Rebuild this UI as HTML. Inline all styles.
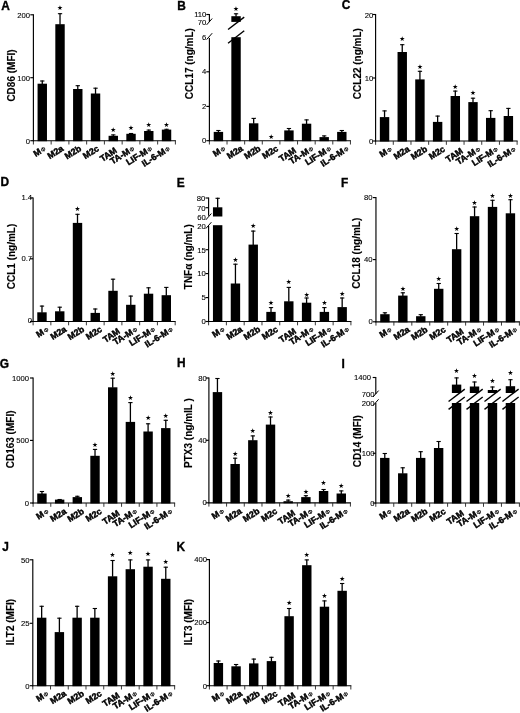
<!DOCTYPE html>
<html><head><meta charset="utf-8"><title>Figure</title>
<style>
html,body{margin:0;padding:0;background:#fff;}
svg{display:block;font-family:"Liberation Sans",sans-serif;fill:#000;}
</style></head><body>
<svg width="520" height="713" viewBox="0 0 520 713">
<rect x="0" y="0" width="520" height="713" fill="#fff"/>
<text x="1.35" y="9.55" font-size="11.9" font-weight="bold" text-anchor="start" stroke="#000" stroke-width="0.35">A</text>
<text x="15.40" y="75.50" font-size="10" font-weight="bold" text-anchor="middle" transform="rotate(-90 15.40 75.50)" stroke="#000" stroke-width="0.12">CD86 (MFI)</text>
<rect x="37.57" y="83.70" width="9.40" height="57.50" fill="#000"/>
<line x1="42.27" y1="80.50" x2="42.27" y2="84.20" stroke="#000" stroke-width="1.3" stroke-linecap="butt"/>
<line x1="40.12" y1="81.00" x2="44.42" y2="81.00" stroke="#000" stroke-width="1.1" stroke-linecap="butt"/>
<rect x="55.32" y="24.20" width="9.40" height="117.00" fill="#000"/>
<line x1="60.02" y1="13.20" x2="60.02" y2="24.70" stroke="#000" stroke-width="1.3" stroke-linecap="butt"/>
<line x1="57.88" y1="13.70" x2="62.17" y2="13.70" stroke="#000" stroke-width="1.1" stroke-linecap="butt"/>
<text x="60.02" y="10.20" font-size="6.6" font-weight="normal" text-anchor="middle" font-family="DejaVu Sans, sans-serif">★</text>
<rect x="73.08" y="89.00" width="9.40" height="52.20" fill="#000"/>
<line x1="77.78" y1="85.20" x2="77.78" y2="89.50" stroke="#000" stroke-width="1.3" stroke-linecap="butt"/>
<line x1="75.62" y1="85.70" x2="79.93" y2="85.70" stroke="#000" stroke-width="1.1" stroke-linecap="butt"/>
<rect x="90.83" y="93.50" width="9.40" height="47.70" fill="#000"/>
<line x1="95.53" y1="87.70" x2="95.53" y2="94.00" stroke="#000" stroke-width="1.3" stroke-linecap="butt"/>
<line x1="93.38" y1="88.20" x2="97.68" y2="88.20" stroke="#000" stroke-width="1.1" stroke-linecap="butt"/>
<rect x="108.58" y="135.80" width="9.40" height="5.40" fill="#000"/>
<line x1="113.28" y1="134.40" x2="113.28" y2="136.30" stroke="#000" stroke-width="1.3" stroke-linecap="butt"/>
<line x1="111.12" y1="134.90" x2="115.43" y2="134.90" stroke="#000" stroke-width="1.1" stroke-linecap="butt"/>
<text x="113.28" y="131.50" font-size="6.6" font-weight="normal" text-anchor="middle" font-family="DejaVu Sans, sans-serif">★</text>
<rect x="126.33" y="133.80" width="9.40" height="7.40" fill="#000"/>
<line x1="131.03" y1="133.00" x2="131.03" y2="134.30" stroke="#000" stroke-width="1.3" stroke-linecap="butt"/>
<line x1="128.88" y1="133.50" x2="133.18" y2="133.50" stroke="#000" stroke-width="1.1" stroke-linecap="butt"/>
<text x="131.03" y="129.90" font-size="6.6" font-weight="normal" text-anchor="middle" font-family="DejaVu Sans, sans-serif">★</text>
<rect x="144.08" y="131.00" width="9.40" height="10.20" fill="#000"/>
<line x1="148.78" y1="129.60" x2="148.78" y2="131.50" stroke="#000" stroke-width="1.3" stroke-linecap="butt"/>
<line x1="146.62" y1="130.10" x2="150.93" y2="130.10" stroke="#000" stroke-width="1.1" stroke-linecap="butt"/>
<text x="148.78" y="126.70" font-size="6.6" font-weight="normal" text-anchor="middle" font-family="DejaVu Sans, sans-serif">★</text>
<rect x="161.83" y="129.60" width="9.40" height="11.60" fill="#000"/>
<line x1="166.53" y1="128.80" x2="166.53" y2="130.10" stroke="#000" stroke-width="1.3" stroke-linecap="butt"/>
<line x1="164.38" y1="129.30" x2="168.68" y2="129.30" stroke="#000" stroke-width="1.1" stroke-linecap="butt"/>
<text x="166.53" y="126.70" font-size="6.6" font-weight="normal" text-anchor="middle" font-family="DejaVu Sans, sans-serif">★</text>
<line x1="32.90" y1="140.70" x2="175.90" y2="140.70" stroke="#000" stroke-width="1.15" stroke-linecap="butt"/>
<line x1="33.40" y1="140.70" x2="33.40" y2="144.50" stroke="#222" stroke-width="0.9" stroke-linecap="butt"/>
<line x1="51.15" y1="140.70" x2="51.15" y2="144.50" stroke="#222" stroke-width="0.9" stroke-linecap="butt"/>
<line x1="68.90" y1="140.70" x2="68.90" y2="144.50" stroke="#222" stroke-width="0.9" stroke-linecap="butt"/>
<line x1="86.65" y1="140.70" x2="86.65" y2="144.50" stroke="#222" stroke-width="0.9" stroke-linecap="butt"/>
<line x1="104.40" y1="140.70" x2="104.40" y2="144.50" stroke="#222" stroke-width="0.9" stroke-linecap="butt"/>
<line x1="122.15" y1="140.70" x2="122.15" y2="144.50" stroke="#222" stroke-width="0.9" stroke-linecap="butt"/>
<line x1="139.90" y1="140.70" x2="139.90" y2="144.50" stroke="#222" stroke-width="0.9" stroke-linecap="butt"/>
<line x1="157.65" y1="140.70" x2="157.65" y2="144.50" stroke="#222" stroke-width="0.9" stroke-linecap="butt"/>
<line x1="175.40" y1="140.70" x2="175.40" y2="144.50" stroke="#222" stroke-width="0.9" stroke-linecap="butt"/>
<line x1="33.40" y1="14.30" x2="33.40" y2="141.20" stroke="#000" stroke-width="1.15" stroke-linecap="butt"/>
<line x1="30.30" y1="14.80" x2="33.40" y2="14.80" stroke="#000" stroke-width="1.15" stroke-linecap="butt"/>
<text x="30.10" y="17.60" font-size="7.7" font-weight="normal" text-anchor="end" stroke="#000" stroke-width="0.1">200</text>
<line x1="30.30" y1="77.70" x2="33.40" y2="77.70" stroke="#000" stroke-width="1.15" stroke-linecap="butt"/>
<text x="30.10" y="80.50" font-size="7.7" font-weight="normal" text-anchor="end" stroke="#000" stroke-width="0.1">100</text>
<line x1="30.30" y1="140.70" x2="33.40" y2="140.70" stroke="#000" stroke-width="1.15" stroke-linecap="butt"/>
<text x="30.10" y="143.50" font-size="7.7" font-weight="normal" text-anchor="end" stroke="#000" stroke-width="0.1">0</text>
<text x="46.48" y="150.00" font-size="8.8" font-weight="bold" text-anchor="end" transform="rotate(-32.5 46.48 150.00)" stroke="#000" stroke-width="0.45">M<tspan font-size="6.0" dx="0.7" dy="-0.2" font-weight="normal" stroke-width="0.2">Φ</tspan></text>
<text x="64.23" y="150.00" font-size="8.8" font-weight="bold" text-anchor="end" transform="rotate(-32.5 64.23 150.00)" stroke="#000" stroke-width="0.45">M2a</text>
<text x="81.98" y="150.00" font-size="8.8" font-weight="bold" text-anchor="end" transform="rotate(-32.5 81.98 150.00)" stroke="#000" stroke-width="0.45">M2b</text>
<text x="99.73" y="150.00" font-size="8.8" font-weight="bold" text-anchor="end" transform="rotate(-32.5 99.73 150.00)" stroke="#000" stroke-width="0.45">M2c</text>
<text x="117.68" y="151.80" font-size="8.8" font-weight="bold" text-anchor="end" transform="rotate(-34 117.68 151.80)" stroke="#000" stroke-width="0.45">TAM</text>
<text x="135.22" y="150.00" font-size="8.8" font-weight="bold" text-anchor="end" transform="rotate(-32.5 135.22 150.00)" stroke="#000" stroke-width="0.45">TA-M<tspan font-size="6.0" dx="0.7" dy="-0.2" font-weight="normal" stroke-width="0.2">Φ</tspan></text>
<text x="152.97" y="150.00" font-size="8.8" font-weight="bold" text-anchor="end" transform="rotate(-32.5 152.97 150.00)" stroke="#000" stroke-width="0.45">LIF-M<tspan font-size="6.0" dx="0.7" dy="-0.2" font-weight="normal" stroke-width="0.2">Φ</tspan></text>
<text x="170.72" y="150.00" font-size="8.8" font-weight="bold" text-anchor="end" transform="rotate(-32.5 170.72 150.00)" stroke="#000" stroke-width="0.45">IL-6-M<tspan font-size="6.0" dx="0.7" dy="-0.2" font-weight="normal" stroke-width="0.2">Φ</tspan></text>
<text x="177.30" y="9.70" font-size="11.9" font-weight="bold" text-anchor="start" stroke="#000" stroke-width="0.35">B</text>
<text x="192.60" y="63.60" font-size="10" font-weight="bold" text-anchor="middle" transform="rotate(-90 192.60 63.60)" stroke="#000" stroke-width="0.12">CCL17 (ng/mL)</text>
<rect x="213.72" y="131.90" width="9.40" height="9.30" fill="#000"/>
<line x1="218.41" y1="130.00" x2="218.41" y2="132.40" stroke="#000" stroke-width="1.3" stroke-linecap="butt"/>
<line x1="216.26" y1="130.50" x2="220.56" y2="130.50" stroke="#000" stroke-width="1.1" stroke-linecap="butt"/>
<rect x="231.34" y="16.20" width="9.40" height="5.70" fill="#000"/>
<rect x="231.34" y="37.20" width="9.40" height="104.00" fill="#000"/>
<line x1="236.04" y1="13.30" x2="236.04" y2="16.70" stroke="#000" stroke-width="1.3" stroke-linecap="butt"/>
<line x1="233.89" y1="13.80" x2="238.19" y2="13.80" stroke="#000" stroke-width="1.1" stroke-linecap="butt"/>
<line x1="228.04" y1="29.50" x2="244.24" y2="17.10" stroke="#000" stroke-width="1.4" stroke-linecap="butt"/>
<line x1="228.04" y1="43.20" x2="244.24" y2="30.80" stroke="#000" stroke-width="1.4" stroke-linecap="butt"/>
<text x="236.04" y="10.60" font-size="6.6" font-weight="normal" text-anchor="middle" font-family="DejaVu Sans, sans-serif">★</text>
<rect x="248.97" y="123.30" width="9.40" height="17.90" fill="#000"/>
<line x1="253.67" y1="117.90" x2="253.67" y2="123.80" stroke="#000" stroke-width="1.3" stroke-linecap="butt"/>
<line x1="251.52" y1="118.40" x2="255.82" y2="118.40" stroke="#000" stroke-width="1.1" stroke-linecap="butt"/>
<text x="271.31" y="138.60" font-size="6.6" font-weight="normal" text-anchor="middle" font-family="DejaVu Sans, sans-serif">★</text>
<rect x="284.24" y="130.40" width="9.40" height="10.80" fill="#000"/>
<line x1="288.94" y1="128.00" x2="288.94" y2="130.90" stroke="#000" stroke-width="1.3" stroke-linecap="butt"/>
<line x1="286.79" y1="128.50" x2="291.08" y2="128.50" stroke="#000" stroke-width="1.1" stroke-linecap="butt"/>
<rect x="301.87" y="123.70" width="9.40" height="17.50" fill="#000"/>
<line x1="306.56" y1="119.40" x2="306.56" y2="124.20" stroke="#000" stroke-width="1.3" stroke-linecap="butt"/>
<line x1="304.42" y1="119.90" x2="308.71" y2="119.90" stroke="#000" stroke-width="1.1" stroke-linecap="butt"/>
<rect x="319.50" y="137.10" width="9.40" height="4.10" fill="#000"/>
<line x1="324.19" y1="135.40" x2="324.19" y2="137.60" stroke="#000" stroke-width="1.3" stroke-linecap="butt"/>
<line x1="322.05" y1="135.90" x2="326.34" y2="135.90" stroke="#000" stroke-width="1.1" stroke-linecap="butt"/>
<rect x="337.12" y="131.90" width="9.40" height="9.30" fill="#000"/>
<line x1="341.82" y1="130.00" x2="341.82" y2="132.40" stroke="#000" stroke-width="1.3" stroke-linecap="butt"/>
<line x1="339.68" y1="130.50" x2="343.97" y2="130.50" stroke="#000" stroke-width="1.1" stroke-linecap="butt"/>
<line x1="208.90" y1="140.70" x2="350.94" y2="140.70" stroke="#000" stroke-width="1.15" stroke-linecap="butt"/>
<line x1="209.40" y1="140.70" x2="209.40" y2="144.50" stroke="#222" stroke-width="0.9" stroke-linecap="butt"/>
<line x1="227.03" y1="140.70" x2="227.03" y2="144.50" stroke="#222" stroke-width="0.9" stroke-linecap="butt"/>
<line x1="244.66" y1="140.70" x2="244.66" y2="144.50" stroke="#222" stroke-width="0.9" stroke-linecap="butt"/>
<line x1="262.29" y1="140.70" x2="262.29" y2="144.50" stroke="#222" stroke-width="0.9" stroke-linecap="butt"/>
<line x1="279.92" y1="140.70" x2="279.92" y2="144.50" stroke="#222" stroke-width="0.9" stroke-linecap="butt"/>
<line x1="297.55" y1="140.70" x2="297.55" y2="144.50" stroke="#222" stroke-width="0.9" stroke-linecap="butt"/>
<line x1="315.18" y1="140.70" x2="315.18" y2="144.50" stroke="#222" stroke-width="0.9" stroke-linecap="butt"/>
<line x1="332.81" y1="140.70" x2="332.81" y2="144.50" stroke="#222" stroke-width="0.9" stroke-linecap="butt"/>
<line x1="350.44" y1="140.70" x2="350.44" y2="144.50" stroke="#222" stroke-width="0.9" stroke-linecap="butt"/>
<line x1="209.40" y1="14.00" x2="209.40" y2="22.00" stroke="#000" stroke-width="1.15" stroke-linecap="butt"/>
<line x1="209.40" y1="38.00" x2="209.40" y2="141.20" stroke="#000" stroke-width="1.15" stroke-linecap="butt"/>
<line x1="206.60" y1="24.90" x2="212.20" y2="18.50" stroke="#000" stroke-width="1.0" stroke-linecap="butt"/>
<line x1="206.60" y1="39.60" x2="212.20" y2="33.20" stroke="#000" stroke-width="1.0" stroke-linecap="butt"/>
<line x1="206.30" y1="14.50" x2="209.40" y2="14.50" stroke="#000" stroke-width="1.15" stroke-linecap="butt"/>
<text x="206.40" y="16.90" font-size="7.7" font-weight="normal" text-anchor="end" stroke="#000" stroke-width="0.1">110</text>
<text x="206.40" y="25.40" font-size="7.7" font-weight="normal" text-anchor="end" stroke="#000" stroke-width="0.1">70</text>
<text x="206.40" y="40.40" font-size="7.7" font-weight="normal" text-anchor="end" stroke="#000" stroke-width="0.1">6</text>
<line x1="206.30" y1="71.80" x2="209.40" y2="71.80" stroke="#000" stroke-width="1.15" stroke-linecap="butt"/>
<text x="206.40" y="74.20" font-size="7.7" font-weight="normal" text-anchor="end" stroke="#000" stroke-width="0.1">4</text>
<line x1="206.30" y1="106.40" x2="209.40" y2="106.40" stroke="#000" stroke-width="1.15" stroke-linecap="butt"/>
<text x="206.40" y="108.80" font-size="7.7" font-weight="normal" text-anchor="end" stroke="#000" stroke-width="0.1">2</text>
<line x1="206.30" y1="140.70" x2="209.40" y2="140.70" stroke="#000" stroke-width="1.15" stroke-linecap="butt"/>
<text x="206.40" y="143.10" font-size="7.7" font-weight="normal" text-anchor="end" stroke="#000" stroke-width="0.1">0</text>
<text x="226.12" y="150.00" font-size="8.8" font-weight="bold" text-anchor="end" transform="rotate(-32.5 226.12 150.00)" stroke="#000" stroke-width="0.45">M<tspan font-size="6.0" dx="0.7" dy="-0.2" font-weight="normal" stroke-width="0.2">Φ</tspan></text>
<text x="243.75" y="150.00" font-size="8.8" font-weight="bold" text-anchor="end" transform="rotate(-32.5 243.75 150.00)" stroke="#000" stroke-width="0.45">M2a</text>
<text x="261.38" y="150.00" font-size="8.8" font-weight="bold" text-anchor="end" transform="rotate(-32.5 261.38 150.00)" stroke="#000" stroke-width="0.45">M2b</text>
<text x="279.00" y="150.00" font-size="8.8" font-weight="bold" text-anchor="end" transform="rotate(-32.5 279.00 150.00)" stroke="#000" stroke-width="0.45">M2c</text>
<text x="296.83" y="151.80" font-size="8.8" font-weight="bold" text-anchor="end" transform="rotate(-34 296.83 151.80)" stroke="#000" stroke-width="0.45">TAM</text>
<text x="314.26" y="150.00" font-size="8.8" font-weight="bold" text-anchor="end" transform="rotate(-32.5 314.26 150.00)" stroke="#000" stroke-width="0.45">TA-M<tspan font-size="6.0" dx="0.7" dy="-0.2" font-weight="normal" stroke-width="0.2">Φ</tspan></text>
<text x="331.89" y="150.00" font-size="8.8" font-weight="bold" text-anchor="end" transform="rotate(-32.5 331.89 150.00)" stroke="#000" stroke-width="0.45">LIF-M<tspan font-size="6.0" dx="0.7" dy="-0.2" font-weight="normal" stroke-width="0.2">Φ</tspan></text>
<text x="349.52" y="150.00" font-size="8.8" font-weight="bold" text-anchor="end" transform="rotate(-32.5 349.52 150.00)" stroke="#000" stroke-width="0.45">IL-6-M<tspan font-size="6.0" dx="0.7" dy="-0.2" font-weight="normal" stroke-width="0.2">Φ</tspan></text>
<text x="341.80" y="9.20" font-size="11.9" font-weight="bold" text-anchor="start" stroke="#000" stroke-width="0.35">C</text>
<text x="360.70" y="63.60" font-size="10" font-weight="bold" text-anchor="middle" transform="rotate(-90 360.70 63.60)" stroke="#000" stroke-width="0.12">CCL22 (ng/mL)</text>
<rect x="379.85" y="117.10" width="9.40" height="24.40" fill="#000"/>
<line x1="384.55" y1="110.40" x2="384.55" y2="117.60" stroke="#000" stroke-width="1.3" stroke-linecap="butt"/>
<line x1="382.40" y1="110.90" x2="386.70" y2="110.90" stroke="#000" stroke-width="1.1" stroke-linecap="butt"/>
<rect x="397.54" y="52.00" width="9.40" height="89.50" fill="#000"/>
<line x1="402.24" y1="44.20" x2="402.24" y2="52.50" stroke="#000" stroke-width="1.3" stroke-linecap="butt"/>
<line x1="400.09" y1="44.70" x2="404.39" y2="44.70" stroke="#000" stroke-width="1.1" stroke-linecap="butt"/>
<text x="402.24" y="41.30" font-size="6.6" font-weight="normal" text-anchor="middle" font-family="DejaVu Sans, sans-serif">★</text>
<rect x="415.23" y="79.40" width="9.40" height="62.10" fill="#000"/>
<line x1="419.93" y1="70.80" x2="419.93" y2="79.90" stroke="#000" stroke-width="1.3" stroke-linecap="butt"/>
<line x1="417.78" y1="71.30" x2="422.08" y2="71.30" stroke="#000" stroke-width="1.1" stroke-linecap="butt"/>
<text x="419.93" y="68.90" font-size="6.6" font-weight="normal" text-anchor="middle" font-family="DejaVu Sans, sans-serif">★</text>
<rect x="432.92" y="121.90" width="9.40" height="19.60" fill="#000"/>
<line x1="437.62" y1="115.60" x2="437.62" y2="122.40" stroke="#000" stroke-width="1.3" stroke-linecap="butt"/>
<line x1="435.47" y1="116.10" x2="439.77" y2="116.10" stroke="#000" stroke-width="1.1" stroke-linecap="butt"/>
<rect x="450.61" y="96.00" width="9.40" height="45.50" fill="#000"/>
<line x1="455.31" y1="90.60" x2="455.31" y2="96.50" stroke="#000" stroke-width="1.3" stroke-linecap="butt"/>
<line x1="453.16" y1="91.10" x2="457.46" y2="91.10" stroke="#000" stroke-width="1.1" stroke-linecap="butt"/>
<text x="455.31" y="88.60" font-size="6.6" font-weight="normal" text-anchor="middle" font-family="DejaVu Sans, sans-serif">★</text>
<rect x="468.30" y="102.10" width="9.40" height="39.40" fill="#000"/>
<line x1="473.00" y1="97.70" x2="473.00" y2="102.60" stroke="#000" stroke-width="1.3" stroke-linecap="butt"/>
<line x1="470.85" y1="98.20" x2="475.15" y2="98.20" stroke="#000" stroke-width="1.1" stroke-linecap="butt"/>
<text x="473.00" y="94.90" font-size="6.6" font-weight="normal" text-anchor="middle" font-family="DejaVu Sans, sans-serif">★</text>
<rect x="485.99" y="117.90" width="9.40" height="23.60" fill="#000"/>
<line x1="490.69" y1="110.20" x2="490.69" y2="118.40" stroke="#000" stroke-width="1.3" stroke-linecap="butt"/>
<line x1="488.54" y1="110.70" x2="492.84" y2="110.70" stroke="#000" stroke-width="1.1" stroke-linecap="butt"/>
<rect x="503.68" y="116.00" width="9.40" height="25.50" fill="#000"/>
<line x1="508.38" y1="107.90" x2="508.38" y2="116.50" stroke="#000" stroke-width="1.3" stroke-linecap="butt"/>
<line x1="506.23" y1="108.40" x2="510.53" y2="108.40" stroke="#000" stroke-width="1.1" stroke-linecap="butt"/>
<line x1="375.10" y1="141.00" x2="517.62" y2="141.00" stroke="#000" stroke-width="1.15" stroke-linecap="butt"/>
<line x1="375.60" y1="141.00" x2="375.60" y2="144.80" stroke="#222" stroke-width="0.9" stroke-linecap="butt"/>
<line x1="393.29" y1="141.00" x2="393.29" y2="144.80" stroke="#222" stroke-width="0.9" stroke-linecap="butt"/>
<line x1="410.98" y1="141.00" x2="410.98" y2="144.80" stroke="#222" stroke-width="0.9" stroke-linecap="butt"/>
<line x1="428.67" y1="141.00" x2="428.67" y2="144.80" stroke="#222" stroke-width="0.9" stroke-linecap="butt"/>
<line x1="446.36" y1="141.00" x2="446.36" y2="144.80" stroke="#222" stroke-width="0.9" stroke-linecap="butt"/>
<line x1="464.05" y1="141.00" x2="464.05" y2="144.80" stroke="#222" stroke-width="0.9" stroke-linecap="butt"/>
<line x1="481.74" y1="141.00" x2="481.74" y2="144.80" stroke="#222" stroke-width="0.9" stroke-linecap="butt"/>
<line x1="499.43" y1="141.00" x2="499.43" y2="144.80" stroke="#222" stroke-width="0.9" stroke-linecap="butt"/>
<line x1="517.12" y1="141.00" x2="517.12" y2="144.80" stroke="#222" stroke-width="0.9" stroke-linecap="butt"/>
<line x1="375.60" y1="14.00" x2="375.60" y2="141.50" stroke="#000" stroke-width="1.15" stroke-linecap="butt"/>
<line x1="372.50" y1="14.50" x2="375.60" y2="14.50" stroke="#000" stroke-width="1.15" stroke-linecap="butt"/>
<text x="373.20" y="17.90" font-size="7.7" font-weight="normal" text-anchor="end" stroke="#000" stroke-width="0.1">20</text>
<line x1="372.50" y1="78.00" x2="375.60" y2="78.00" stroke="#000" stroke-width="1.15" stroke-linecap="butt"/>
<text x="373.20" y="81.40" font-size="7.7" font-weight="normal" text-anchor="end" stroke="#000" stroke-width="0.1">10</text>
<line x1="372.50" y1="141.00" x2="375.60" y2="141.00" stroke="#000" stroke-width="1.15" stroke-linecap="butt"/>
<text x="373.20" y="144.40" font-size="7.7" font-weight="normal" text-anchor="end" stroke="#000" stroke-width="0.1">0</text>
<text x="392.65" y="150.60" font-size="8.8" font-weight="bold" text-anchor="end" transform="rotate(-32.5 392.65 150.60)" stroke="#000" stroke-width="0.45">M<tspan font-size="6.0" dx="0.7" dy="-0.2" font-weight="normal" stroke-width="0.2">Φ</tspan></text>
<text x="410.34" y="150.60" font-size="8.8" font-weight="bold" text-anchor="end" transform="rotate(-32.5 410.34 150.60)" stroke="#000" stroke-width="0.45">M2a</text>
<text x="428.03" y="150.60" font-size="8.8" font-weight="bold" text-anchor="end" transform="rotate(-32.5 428.03 150.60)" stroke="#000" stroke-width="0.45">M2b</text>
<text x="445.72" y="150.60" font-size="8.8" font-weight="bold" text-anchor="end" transform="rotate(-32.5 445.72 150.60)" stroke="#000" stroke-width="0.45">M2c</text>
<text x="463.61" y="152.40" font-size="8.8" font-weight="bold" text-anchor="end" transform="rotate(-34 463.61 152.40)" stroke="#000" stroke-width="0.45">TAM</text>
<text x="481.10" y="150.60" font-size="8.8" font-weight="bold" text-anchor="end" transform="rotate(-32.5 481.10 150.60)" stroke="#000" stroke-width="0.45">TA-M<tspan font-size="6.0" dx="0.7" dy="-0.2" font-weight="normal" stroke-width="0.2">Φ</tspan></text>
<text x="498.79" y="150.60" font-size="8.8" font-weight="bold" text-anchor="end" transform="rotate(-32.5 498.79 150.60)" stroke="#000" stroke-width="0.45">LIF-M<tspan font-size="6.0" dx="0.7" dy="-0.2" font-weight="normal" stroke-width="0.2">Φ</tspan></text>
<text x="516.48" y="150.60" font-size="8.8" font-weight="bold" text-anchor="end" transform="rotate(-32.5 516.48 150.60)" stroke="#000" stroke-width="0.45">IL-6-M<tspan font-size="6.0" dx="0.7" dy="-0.2" font-weight="normal" stroke-width="0.2">Φ</tspan></text>
<text x="0.40" y="186.20" font-size="11.9" font-weight="bold" text-anchor="start" stroke="#000" stroke-width="0.35">D</text>
<text x="14.50" y="256.50" font-size="10" font-weight="bold" text-anchor="middle" transform="rotate(-90 14.50 256.50)" stroke="#000" stroke-width="0.12">CCL1 (ng/mL)</text>
<rect x="37.28" y="312.30" width="9.40" height="9.70" fill="#000"/>
<line x1="41.98" y1="305.60" x2="41.98" y2="312.80" stroke="#000" stroke-width="1.3" stroke-linecap="butt"/>
<line x1="39.83" y1="306.10" x2="44.13" y2="306.10" stroke="#000" stroke-width="1.1" stroke-linecap="butt"/>
<rect x="55.04" y="311.30" width="9.40" height="10.70" fill="#000"/>
<line x1="59.74" y1="306.70" x2="59.74" y2="311.80" stroke="#000" stroke-width="1.3" stroke-linecap="butt"/>
<line x1="57.59" y1="307.20" x2="61.89" y2="307.20" stroke="#000" stroke-width="1.1" stroke-linecap="butt"/>
<rect x="72.80" y="222.90" width="9.40" height="99.10" fill="#000"/>
<line x1="77.50" y1="213.80" x2="77.50" y2="223.40" stroke="#000" stroke-width="1.3" stroke-linecap="butt"/>
<line x1="75.35" y1="214.30" x2="79.65" y2="214.30" stroke="#000" stroke-width="1.1" stroke-linecap="butt"/>
<text x="77.50" y="210.90" font-size="6.6" font-weight="normal" text-anchor="middle" font-family="DejaVu Sans, sans-serif">★</text>
<rect x="90.56" y="312.90" width="9.40" height="9.10" fill="#000"/>
<line x1="95.26" y1="308.50" x2="95.26" y2="313.40" stroke="#000" stroke-width="1.3" stroke-linecap="butt"/>
<line x1="93.11" y1="309.00" x2="97.41" y2="309.00" stroke="#000" stroke-width="1.1" stroke-linecap="butt"/>
<rect x="108.32" y="290.80" width="9.40" height="31.20" fill="#000"/>
<line x1="113.02" y1="278.70" x2="113.02" y2="291.30" stroke="#000" stroke-width="1.3" stroke-linecap="butt"/>
<line x1="110.87" y1="279.20" x2="115.17" y2="279.20" stroke="#000" stroke-width="1.1" stroke-linecap="butt"/>
<rect x="126.08" y="304.80" width="9.40" height="17.20" fill="#000"/>
<line x1="130.78" y1="295.60" x2="130.78" y2="305.30" stroke="#000" stroke-width="1.3" stroke-linecap="butt"/>
<line x1="128.63" y1="296.10" x2="132.93" y2="296.10" stroke="#000" stroke-width="1.1" stroke-linecap="butt"/>
<rect x="143.84" y="293.70" width="9.40" height="28.30" fill="#000"/>
<line x1="148.54" y1="287.30" x2="148.54" y2="294.20" stroke="#000" stroke-width="1.3" stroke-linecap="butt"/>
<line x1="146.39" y1="287.80" x2="150.69" y2="287.80" stroke="#000" stroke-width="1.1" stroke-linecap="butt"/>
<rect x="161.60" y="295.20" width="9.40" height="26.80" fill="#000"/>
<line x1="166.30" y1="286.90" x2="166.30" y2="295.70" stroke="#000" stroke-width="1.3" stroke-linecap="butt"/>
<line x1="164.15" y1="287.40" x2="168.45" y2="287.40" stroke="#000" stroke-width="1.1" stroke-linecap="butt"/>
<line x1="32.60" y1="321.50" x2="175.68" y2="321.50" stroke="#000" stroke-width="1.15" stroke-linecap="butt"/>
<line x1="33.10" y1="321.50" x2="33.10" y2="325.30" stroke="#222" stroke-width="0.9" stroke-linecap="butt"/>
<line x1="50.86" y1="321.50" x2="50.86" y2="325.30" stroke="#222" stroke-width="0.9" stroke-linecap="butt"/>
<line x1="68.62" y1="321.50" x2="68.62" y2="325.30" stroke="#222" stroke-width="0.9" stroke-linecap="butt"/>
<line x1="86.38" y1="321.50" x2="86.38" y2="325.30" stroke="#222" stroke-width="0.9" stroke-linecap="butt"/>
<line x1="104.14" y1="321.50" x2="104.14" y2="325.30" stroke="#222" stroke-width="0.9" stroke-linecap="butt"/>
<line x1="121.90" y1="321.50" x2="121.90" y2="325.30" stroke="#222" stroke-width="0.9" stroke-linecap="butt"/>
<line x1="139.66" y1="321.50" x2="139.66" y2="325.30" stroke="#222" stroke-width="0.9" stroke-linecap="butt"/>
<line x1="157.42" y1="321.50" x2="157.42" y2="325.30" stroke="#222" stroke-width="0.9" stroke-linecap="butt"/>
<line x1="175.18" y1="321.50" x2="175.18" y2="325.30" stroke="#222" stroke-width="0.9" stroke-linecap="butt"/>
<line x1="33.10" y1="197.40" x2="33.10" y2="322.00" stroke="#000" stroke-width="1.15" stroke-linecap="butt"/>
<line x1="30.00" y1="197.90" x2="33.10" y2="197.90" stroke="#000" stroke-width="1.15" stroke-linecap="butt"/>
<text x="32.10" y="199.80" font-size="7.7" font-weight="normal" text-anchor="end" stroke="#000" stroke-width="0.1">1.4</text>
<line x1="30.00" y1="258.80" x2="33.10" y2="258.80" stroke="#000" stroke-width="1.15" stroke-linecap="butt"/>
<text x="32.10" y="260.70" font-size="7.7" font-weight="normal" text-anchor="end" stroke="#000" stroke-width="0.1">0.7</text>
<line x1="30.00" y1="321.50" x2="33.10" y2="321.50" stroke="#000" stroke-width="1.15" stroke-linecap="butt"/>
<text x="32.10" y="323.40" font-size="7.7" font-weight="normal" text-anchor="end" stroke="#000" stroke-width="0.1">0</text>
<text x="49.43" y="330.80" font-size="8.8" font-weight="bold" text-anchor="end" transform="rotate(-32.5 49.43 330.80)" stroke="#000" stroke-width="0.45">M<tspan font-size="6.0" dx="0.7" dy="-0.2" font-weight="normal" stroke-width="0.2">Φ</tspan></text>
<text x="67.19" y="330.80" font-size="8.8" font-weight="bold" text-anchor="end" transform="rotate(-32.5 67.19 330.80)" stroke="#000" stroke-width="0.45">M2a</text>
<text x="84.95" y="330.80" font-size="8.8" font-weight="bold" text-anchor="end" transform="rotate(-32.5 84.95 330.80)" stroke="#000" stroke-width="0.45">M2b</text>
<text x="102.71" y="330.80" font-size="8.8" font-weight="bold" text-anchor="end" transform="rotate(-32.5 102.71 330.80)" stroke="#000" stroke-width="0.45">M2c</text>
<text x="120.67" y="332.60" font-size="8.8" font-weight="bold" text-anchor="end" transform="rotate(-34 120.67 332.60)" stroke="#000" stroke-width="0.45">TAM</text>
<text x="138.23" y="330.80" font-size="8.8" font-weight="bold" text-anchor="end" transform="rotate(-32.5 138.23 330.80)" stroke="#000" stroke-width="0.45">TA-M<tspan font-size="6.0" dx="0.7" dy="-0.2" font-weight="normal" stroke-width="0.2">Φ</tspan></text>
<text x="155.99" y="330.80" font-size="8.8" font-weight="bold" text-anchor="end" transform="rotate(-32.5 155.99 330.80)" stroke="#000" stroke-width="0.45">LIF-M<tspan font-size="6.0" dx="0.7" dy="-0.2" font-weight="normal" stroke-width="0.2">Φ</tspan></text>
<text x="173.75" y="330.80" font-size="8.8" font-weight="bold" text-anchor="end" transform="rotate(-32.5 173.75 330.80)" stroke="#000" stroke-width="0.45">IL-6-M<tspan font-size="6.0" dx="0.7" dy="-0.2" font-weight="normal" stroke-width="0.2">Φ</tspan></text>
<text x="176.80" y="187.10" font-size="11.9" font-weight="bold" text-anchor="start" stroke="#000" stroke-width="0.35">E</text>
<text x="192.30" y="256.70" font-size="10" font-weight="bold" text-anchor="middle" transform="rotate(-90 192.30 256.70)" stroke="#000" stroke-width="0.12">TNFα (ng/mL)</text>
<rect x="212.95" y="207.30" width="9.40" height="9.20" fill="#000"/>
<rect x="212.95" y="225.20" width="9.40" height="96.80" fill="#000"/>
<line x1="217.65" y1="197.80" x2="217.65" y2="207.80" stroke="#000" stroke-width="1.3" stroke-linecap="butt"/>
<line x1="215.50" y1="198.30" x2="219.80" y2="198.30" stroke="#000" stroke-width="1.1" stroke-linecap="butt"/>
<rect x="230.74" y="283.50" width="9.40" height="38.50" fill="#000"/>
<line x1="235.44" y1="263.70" x2="235.44" y2="284.00" stroke="#000" stroke-width="1.3" stroke-linecap="butt"/>
<line x1="233.28" y1="264.20" x2="237.59" y2="264.20" stroke="#000" stroke-width="1.1" stroke-linecap="butt"/>
<text x="235.44" y="261.90" font-size="6.6" font-weight="normal" text-anchor="middle" font-family="DejaVu Sans, sans-serif">★</text>
<rect x="248.53" y="244.60" width="9.40" height="77.40" fill="#000"/>
<line x1="253.22" y1="230.60" x2="253.22" y2="245.10" stroke="#000" stroke-width="1.3" stroke-linecap="butt"/>
<line x1="251.07" y1="231.10" x2="255.38" y2="231.10" stroke="#000" stroke-width="1.1" stroke-linecap="butt"/>
<text x="253.22" y="228.20" font-size="6.6" font-weight="normal" text-anchor="middle" font-family="DejaVu Sans, sans-serif">★</text>
<rect x="266.31" y="311.90" width="9.40" height="10.10" fill="#000"/>
<line x1="271.01" y1="307.10" x2="271.01" y2="312.40" stroke="#000" stroke-width="1.3" stroke-linecap="butt"/>
<line x1="268.87" y1="307.60" x2="273.16" y2="307.60" stroke="#000" stroke-width="1.1" stroke-linecap="butt"/>
<text x="271.01" y="305.20" font-size="6.6" font-weight="normal" text-anchor="middle" font-family="DejaVu Sans, sans-serif">★</text>
<rect x="284.10" y="301.30" width="9.40" height="20.70" fill="#000"/>
<line x1="288.80" y1="286.90" x2="288.80" y2="301.80" stroke="#000" stroke-width="1.3" stroke-linecap="butt"/>
<line x1="286.65" y1="287.40" x2="290.95" y2="287.40" stroke="#000" stroke-width="1.1" stroke-linecap="butt"/>
<text x="288.80" y="284.40" font-size="6.6" font-weight="normal" text-anchor="middle" font-family="DejaVu Sans, sans-serif">★</text>
<rect x="301.89" y="302.70" width="9.40" height="19.30" fill="#000"/>
<line x1="306.59" y1="297.50" x2="306.59" y2="303.20" stroke="#000" stroke-width="1.3" stroke-linecap="butt"/>
<line x1="304.44" y1="298.00" x2="308.74" y2="298.00" stroke="#000" stroke-width="1.1" stroke-linecap="butt"/>
<text x="306.59" y="296.50" font-size="6.6" font-weight="normal" text-anchor="middle" font-family="DejaVu Sans, sans-serif">★</text>
<rect x="319.69" y="311.90" width="9.40" height="10.10" fill="#000"/>
<line x1="324.38" y1="307.10" x2="324.38" y2="312.40" stroke="#000" stroke-width="1.3" stroke-linecap="butt"/>
<line x1="322.24" y1="307.60" x2="326.53" y2="307.60" stroke="#000" stroke-width="1.1" stroke-linecap="butt"/>
<text x="324.38" y="305.20" font-size="6.6" font-weight="normal" text-anchor="middle" font-family="DejaVu Sans, sans-serif">★</text>
<rect x="337.47" y="307.10" width="9.40" height="14.90" fill="#000"/>
<line x1="342.17" y1="297.50" x2="342.17" y2="307.60" stroke="#000" stroke-width="1.3" stroke-linecap="butt"/>
<line x1="340.02" y1="298.00" x2="344.32" y2="298.00" stroke="#000" stroke-width="1.1" stroke-linecap="butt"/>
<text x="342.17" y="295.60" font-size="6.6" font-weight="normal" text-anchor="middle" font-family="DejaVu Sans, sans-serif">★</text>
<line x1="208.10" y1="321.50" x2="351.42" y2="321.50" stroke="#000" stroke-width="1.15" stroke-linecap="butt"/>
<line x1="208.60" y1="321.50" x2="208.60" y2="325.30" stroke="#222" stroke-width="0.9" stroke-linecap="butt"/>
<line x1="226.39" y1="321.50" x2="226.39" y2="325.30" stroke="#222" stroke-width="0.9" stroke-linecap="butt"/>
<line x1="244.18" y1="321.50" x2="244.18" y2="325.30" stroke="#222" stroke-width="0.9" stroke-linecap="butt"/>
<line x1="261.97" y1="321.50" x2="261.97" y2="325.30" stroke="#222" stroke-width="0.9" stroke-linecap="butt"/>
<line x1="279.76" y1="321.50" x2="279.76" y2="325.30" stroke="#222" stroke-width="0.9" stroke-linecap="butt"/>
<line x1="297.55" y1="321.50" x2="297.55" y2="325.30" stroke="#222" stroke-width="0.9" stroke-linecap="butt"/>
<line x1="315.34" y1="321.50" x2="315.34" y2="325.30" stroke="#222" stroke-width="0.9" stroke-linecap="butt"/>
<line x1="333.13" y1="321.50" x2="333.13" y2="325.30" stroke="#222" stroke-width="0.9" stroke-linecap="butt"/>
<line x1="350.92" y1="321.50" x2="350.92" y2="325.30" stroke="#222" stroke-width="0.9" stroke-linecap="butt"/>
<line x1="208.60" y1="197.50" x2="208.60" y2="215.80" stroke="#000" stroke-width="1.15" stroke-linecap="butt"/>
<line x1="208.60" y1="226.00" x2="208.60" y2="322.00" stroke="#000" stroke-width="1.15" stroke-linecap="butt"/>
<line x1="205.80" y1="219.90" x2="211.40" y2="213.50" stroke="#000" stroke-width="1.0" stroke-linecap="butt"/>
<line x1="205.80" y1="228.60" x2="211.40" y2="222.20" stroke="#000" stroke-width="1.0" stroke-linecap="butt"/>
<line x1="205.50" y1="198.00" x2="208.60" y2="198.00" stroke="#000" stroke-width="1.15" stroke-linecap="butt"/>
<text x="205.30" y="200.80" font-size="7.7" font-weight="normal" text-anchor="end" stroke="#000" stroke-width="0.1">80</text>
<line x1="205.50" y1="207.70" x2="208.60" y2="207.70" stroke="#000" stroke-width="1.15" stroke-linecap="butt"/>
<text x="205.50" y="210.50" font-size="7.7" font-weight="normal" text-anchor="end" stroke="#000" stroke-width="0.1">70</text>
<text x="205.70" y="219.50" font-size="7.7" font-weight="normal" text-anchor="end" stroke="#000" stroke-width="0.1">60</text>
<text x="205.80" y="228.60" font-size="7.7" font-weight="normal" text-anchor="end" stroke="#000" stroke-width="0.1">20</text>
<line x1="205.50" y1="249.70" x2="208.60" y2="249.70" stroke="#000" stroke-width="1.15" stroke-linecap="butt"/>
<text x="205.80" y="252.50" font-size="7.7" font-weight="normal" text-anchor="end" stroke="#000" stroke-width="0.1">15</text>
<line x1="205.50" y1="273.60" x2="208.60" y2="273.60" stroke="#000" stroke-width="1.15" stroke-linecap="butt"/>
<text x="205.80" y="276.40" font-size="7.7" font-weight="normal" text-anchor="end" stroke="#000" stroke-width="0.1">10</text>
<line x1="205.50" y1="297.60" x2="208.60" y2="297.60" stroke="#000" stroke-width="1.15" stroke-linecap="butt"/>
<text x="205.80" y="300.40" font-size="7.7" font-weight="normal" text-anchor="end" stroke="#000" stroke-width="0.1">5</text>
<line x1="205.50" y1="321.50" x2="208.60" y2="321.50" stroke="#000" stroke-width="1.15" stroke-linecap="butt"/>
<text x="205.80" y="324.30" font-size="7.7" font-weight="normal" text-anchor="end" stroke="#000" stroke-width="0.1">0</text>
<text x="225.40" y="330.80" font-size="8.8" font-weight="bold" text-anchor="end" transform="rotate(-32.5 225.40 330.80)" stroke="#000" stroke-width="0.45">M<tspan font-size="6.0" dx="0.7" dy="-0.2" font-weight="normal" stroke-width="0.2">Φ</tspan></text>
<text x="243.19" y="330.80" font-size="8.8" font-weight="bold" text-anchor="end" transform="rotate(-32.5 243.19 330.80)" stroke="#000" stroke-width="0.45">M2a</text>
<text x="260.97" y="330.80" font-size="8.8" font-weight="bold" text-anchor="end" transform="rotate(-32.5 260.97 330.80)" stroke="#000" stroke-width="0.45">M2b</text>
<text x="278.76" y="330.80" font-size="8.8" font-weight="bold" text-anchor="end" transform="rotate(-32.5 278.76 330.80)" stroke="#000" stroke-width="0.45">M2c</text>
<text x="296.75" y="332.60" font-size="8.8" font-weight="bold" text-anchor="end" transform="rotate(-34 296.75 332.60)" stroke="#000" stroke-width="0.45">TAM</text>
<text x="314.34" y="330.80" font-size="8.8" font-weight="bold" text-anchor="end" transform="rotate(-32.5 314.34 330.80)" stroke="#000" stroke-width="0.45">TA-M<tspan font-size="6.0" dx="0.7" dy="-0.2" font-weight="normal" stroke-width="0.2">Φ</tspan></text>
<text x="332.13" y="330.80" font-size="8.8" font-weight="bold" text-anchor="end" transform="rotate(-32.5 332.13 330.80)" stroke="#000" stroke-width="0.45">LIF-M<tspan font-size="6.0" dx="0.7" dy="-0.2" font-weight="normal" stroke-width="0.2">Φ</tspan></text>
<text x="349.92" y="330.80" font-size="8.8" font-weight="bold" text-anchor="end" transform="rotate(-32.5 349.92 330.80)" stroke="#000" stroke-width="0.45">IL-6-M<tspan font-size="6.0" dx="0.7" dy="-0.2" font-weight="normal" stroke-width="0.2">Φ</tspan></text>
<text x="341.00" y="186.50" font-size="11.9" font-weight="bold" text-anchor="start" stroke="#000" stroke-width="0.35">F</text>
<text x="360.30" y="253.30" font-size="10" font-weight="bold" text-anchor="middle" transform="rotate(-90 360.30 253.30)" stroke="#000" stroke-width="0.12">CCL18 (ng/mL)</text>
<rect x="380.22" y="314.20" width="9.40" height="8.10" fill="#000"/>
<line x1="384.92" y1="312.30" x2="384.92" y2="314.70" stroke="#000" stroke-width="1.3" stroke-linecap="butt"/>
<line x1="382.77" y1="312.80" x2="387.07" y2="312.80" stroke="#000" stroke-width="1.1" stroke-linecap="butt"/>
<rect x="398.15" y="295.60" width="9.40" height="26.70" fill="#000"/>
<line x1="402.85" y1="292.30" x2="402.85" y2="296.10" stroke="#000" stroke-width="1.3" stroke-linecap="butt"/>
<line x1="400.70" y1="292.80" x2="405.00" y2="292.80" stroke="#000" stroke-width="1.1" stroke-linecap="butt"/>
<text x="402.85" y="290.70" font-size="6.6" font-weight="normal" text-anchor="middle" font-family="DejaVu Sans, sans-serif">★</text>
<rect x="416.08" y="316.20" width="9.40" height="6.10" fill="#000"/>
<line x1="420.78" y1="314.20" x2="420.78" y2="316.70" stroke="#000" stroke-width="1.3" stroke-linecap="butt"/>
<line x1="418.63" y1="314.70" x2="422.93" y2="314.70" stroke="#000" stroke-width="1.1" stroke-linecap="butt"/>
<rect x="434.01" y="288.80" width="9.40" height="33.50" fill="#000"/>
<line x1="438.71" y1="283.00" x2="438.71" y2="289.30" stroke="#000" stroke-width="1.3" stroke-linecap="butt"/>
<line x1="436.56" y1="283.50" x2="440.86" y2="283.50" stroke="#000" stroke-width="1.1" stroke-linecap="butt"/>
<text x="438.71" y="280.90" font-size="6.6" font-weight="normal" text-anchor="middle" font-family="DejaVu Sans, sans-serif">★</text>
<rect x="451.94" y="249.20" width="9.40" height="73.10" fill="#000"/>
<line x1="456.64" y1="233.00" x2="456.64" y2="249.70" stroke="#000" stroke-width="1.3" stroke-linecap="butt"/>
<line x1="454.50" y1="233.50" x2="458.79" y2="233.50" stroke="#000" stroke-width="1.1" stroke-linecap="butt"/>
<text x="456.64" y="231.10" font-size="6.6" font-weight="normal" text-anchor="middle" font-family="DejaVu Sans, sans-serif">★</text>
<rect x="469.88" y="216.20" width="9.40" height="106.10" fill="#000"/>
<line x1="474.57" y1="206.50" x2="474.57" y2="216.70" stroke="#000" stroke-width="1.3" stroke-linecap="butt"/>
<line x1="472.43" y1="207.00" x2="476.72" y2="207.00" stroke="#000" stroke-width="1.1" stroke-linecap="butt"/>
<text x="474.57" y="204.90" font-size="6.6" font-weight="normal" text-anchor="middle" font-family="DejaVu Sans, sans-serif">★</text>
<rect x="487.81" y="206.90" width="9.40" height="115.40" fill="#000"/>
<line x1="492.50" y1="199.80" x2="492.50" y2="207.40" stroke="#000" stroke-width="1.3" stroke-linecap="butt"/>
<line x1="490.36" y1="200.30" x2="494.65" y2="200.30" stroke="#000" stroke-width="1.1" stroke-linecap="butt"/>
<text x="492.50" y="198.40" font-size="6.6" font-weight="normal" text-anchor="middle" font-family="DejaVu Sans, sans-serif">★</text>
<rect x="505.73" y="213.30" width="9.40" height="109.00" fill="#000"/>
<line x1="510.43" y1="199.20" x2="510.43" y2="213.80" stroke="#000" stroke-width="1.3" stroke-linecap="butt"/>
<line x1="508.28" y1="199.70" x2="512.58" y2="199.70" stroke="#000" stroke-width="1.1" stroke-linecap="butt"/>
<text x="510.43" y="197.50" font-size="6.6" font-weight="normal" text-anchor="middle" font-family="DejaVu Sans, sans-serif">★</text>
<line x1="375.46" y1="321.80" x2="519.90" y2="321.80" stroke="#000" stroke-width="1.15" stroke-linecap="butt"/>
<line x1="375.96" y1="321.80" x2="375.96" y2="325.60" stroke="#222" stroke-width="0.9" stroke-linecap="butt"/>
<line x1="393.89" y1="321.80" x2="393.89" y2="325.60" stroke="#222" stroke-width="0.9" stroke-linecap="butt"/>
<line x1="411.82" y1="321.80" x2="411.82" y2="325.60" stroke="#222" stroke-width="0.9" stroke-linecap="butt"/>
<line x1="429.75" y1="321.80" x2="429.75" y2="325.60" stroke="#222" stroke-width="0.9" stroke-linecap="butt"/>
<line x1="447.68" y1="321.80" x2="447.68" y2="325.60" stroke="#222" stroke-width="0.9" stroke-linecap="butt"/>
<line x1="465.61" y1="321.80" x2="465.61" y2="325.60" stroke="#222" stroke-width="0.9" stroke-linecap="butt"/>
<line x1="483.54" y1="321.80" x2="483.54" y2="325.60" stroke="#222" stroke-width="0.9" stroke-linecap="butt"/>
<line x1="501.47" y1="321.80" x2="501.47" y2="325.60" stroke="#222" stroke-width="0.9" stroke-linecap="butt"/>
<line x1="519.40" y1="321.80" x2="519.40" y2="325.60" stroke="#222" stroke-width="0.9" stroke-linecap="butt"/>
<line x1="375.96" y1="197.10" x2="375.96" y2="322.30" stroke="#000" stroke-width="1.15" stroke-linecap="butt"/>
<line x1="372.86" y1="197.60" x2="375.96" y2="197.60" stroke="#000" stroke-width="1.15" stroke-linecap="butt"/>
<text x="372.66" y="200.00" font-size="7.7" font-weight="normal" text-anchor="end" stroke="#000" stroke-width="0.1">80</text>
<line x1="372.86" y1="259.60" x2="375.96" y2="259.60" stroke="#000" stroke-width="1.15" stroke-linecap="butt"/>
<text x="372.66" y="262.00" font-size="7.7" font-weight="normal" text-anchor="end" stroke="#000" stroke-width="0.1">40</text>
<line x1="372.86" y1="321.80" x2="375.96" y2="321.80" stroke="#000" stroke-width="1.15" stroke-linecap="butt"/>
<text x="372.66" y="324.20" font-size="7.7" font-weight="normal" text-anchor="end" stroke="#000" stroke-width="0.1">0</text>
<text x="392.48" y="331.10" font-size="8.8" font-weight="bold" text-anchor="end" transform="rotate(-32.5 392.48 331.10)" stroke="#000" stroke-width="0.45">M<tspan font-size="6.0" dx="0.7" dy="-0.2" font-weight="normal" stroke-width="0.2">Φ</tspan></text>
<text x="410.41" y="331.10" font-size="8.8" font-weight="bold" text-anchor="end" transform="rotate(-32.5 410.41 331.10)" stroke="#000" stroke-width="0.45">M2a</text>
<text x="428.34" y="331.10" font-size="8.8" font-weight="bold" text-anchor="end" transform="rotate(-32.5 428.34 331.10)" stroke="#000" stroke-width="0.45">M2b</text>
<text x="446.27" y="331.10" font-size="8.8" font-weight="bold" text-anchor="end" transform="rotate(-32.5 446.27 331.10)" stroke="#000" stroke-width="0.45">M2c</text>
<text x="464.40" y="332.90" font-size="8.8" font-weight="bold" text-anchor="end" transform="rotate(-34 464.40 332.90)" stroke="#000" stroke-width="0.45">TAM</text>
<text x="482.13" y="331.10" font-size="8.8" font-weight="bold" text-anchor="end" transform="rotate(-32.5 482.13 331.10)" stroke="#000" stroke-width="0.45">TA-M<tspan font-size="6.0" dx="0.7" dy="-0.2" font-weight="normal" stroke-width="0.2">Φ</tspan></text>
<text x="500.06" y="331.10" font-size="8.8" font-weight="bold" text-anchor="end" transform="rotate(-32.5 500.06 331.10)" stroke="#000" stroke-width="0.45">LIF-M<tspan font-size="6.0" dx="0.7" dy="-0.2" font-weight="normal" stroke-width="0.2">Φ</tspan></text>
<text x="517.99" y="331.10" font-size="8.8" font-weight="bold" text-anchor="end" transform="rotate(-32.5 517.99 331.10)" stroke="#000" stroke-width="0.45">IL-6-M<tspan font-size="6.0" dx="0.7" dy="-0.2" font-weight="normal" stroke-width="0.2">Φ</tspan></text>
<text x="-0.30" y="368.30" font-size="11.9" font-weight="bold" text-anchor="start" stroke="#000" stroke-width="0.35">G</text>
<text x="14.30" y="439.40" font-size="10" font-weight="bold" text-anchor="middle" transform="rotate(-90 14.30 439.40)" stroke="#000" stroke-width="0.12">CD163 (MFI)</text>
<rect x="37.24" y="493.50" width="9.40" height="10.00" fill="#000"/>
<line x1="41.95" y1="491.00" x2="41.95" y2="494.00" stroke="#000" stroke-width="1.3" stroke-linecap="butt"/>
<line x1="39.80" y1="491.50" x2="44.09" y2="491.50" stroke="#000" stroke-width="1.1" stroke-linecap="butt"/>
<rect x="54.94" y="499.60" width="9.40" height="3.90" fill="#000"/>
<line x1="59.64" y1="499.00" x2="59.64" y2="500.10" stroke="#000" stroke-width="1.3" stroke-linecap="butt"/>
<line x1="57.49" y1="499.50" x2="61.79" y2="499.50" stroke="#000" stroke-width="1.1" stroke-linecap="butt"/>
<rect x="72.62" y="497.10" width="9.40" height="6.40" fill="#000"/>
<line x1="77.33" y1="495.80" x2="77.33" y2="497.60" stroke="#000" stroke-width="1.3" stroke-linecap="butt"/>
<line x1="75.17" y1="496.30" x2="79.48" y2="496.30" stroke="#000" stroke-width="1.1" stroke-linecap="butt"/>
<rect x="90.32" y="455.80" width="9.40" height="47.70" fill="#000"/>
<line x1="95.02" y1="448.90" x2="95.02" y2="456.30" stroke="#000" stroke-width="1.3" stroke-linecap="butt"/>
<line x1="92.87" y1="449.40" x2="97.17" y2="449.40" stroke="#000" stroke-width="1.1" stroke-linecap="butt"/>
<text x="95.02" y="446.80" font-size="6.6" font-weight="normal" text-anchor="middle" font-family="DejaVu Sans, sans-serif">★</text>
<rect x="108.01" y="387.30" width="9.40" height="116.20" fill="#000"/>
<line x1="112.71" y1="377.70" x2="112.71" y2="387.80" stroke="#000" stroke-width="1.3" stroke-linecap="butt"/>
<line x1="110.56" y1="378.20" x2="114.86" y2="378.20" stroke="#000" stroke-width="1.1" stroke-linecap="butt"/>
<text x="112.71" y="375.70" font-size="6.6" font-weight="normal" text-anchor="middle" font-family="DejaVu Sans, sans-serif">★</text>
<rect x="125.70" y="421.90" width="9.40" height="81.60" fill="#000"/>
<line x1="130.40" y1="402.10" x2="130.40" y2="422.40" stroke="#000" stroke-width="1.3" stroke-linecap="butt"/>
<line x1="128.25" y1="402.60" x2="132.55" y2="402.60" stroke="#000" stroke-width="1.1" stroke-linecap="butt"/>
<text x="130.40" y="399.60" font-size="6.6" font-weight="normal" text-anchor="middle" font-family="DejaVu Sans, sans-serif">★</text>
<rect x="143.39" y="431.50" width="9.40" height="72.00" fill="#000"/>
<line x1="148.09" y1="423.30" x2="148.09" y2="432.00" stroke="#000" stroke-width="1.3" stroke-linecap="butt"/>
<line x1="145.94" y1="423.80" x2="150.24" y2="423.80" stroke="#000" stroke-width="1.1" stroke-linecap="butt"/>
<text x="148.09" y="420.40" font-size="6.6" font-weight="normal" text-anchor="middle" font-family="DejaVu Sans, sans-serif">★</text>
<rect x="161.08" y="428.10" width="9.40" height="75.40" fill="#000"/>
<line x1="165.78" y1="419.80" x2="165.78" y2="428.60" stroke="#000" stroke-width="1.3" stroke-linecap="butt"/>
<line x1="163.62" y1="420.30" x2="167.93" y2="420.30" stroke="#000" stroke-width="1.1" stroke-linecap="butt"/>
<text x="165.78" y="417.50" font-size="6.6" font-weight="normal" text-anchor="middle" font-family="DejaVu Sans, sans-serif">★</text>
<line x1="32.60" y1="503.00" x2="175.12" y2="503.00" stroke="#000" stroke-width="1.15" stroke-linecap="butt"/>
<line x1="33.10" y1="503.00" x2="33.10" y2="506.80" stroke="#222" stroke-width="0.9" stroke-linecap="butt"/>
<line x1="50.79" y1="503.00" x2="50.79" y2="506.80" stroke="#222" stroke-width="0.9" stroke-linecap="butt"/>
<line x1="68.48" y1="503.00" x2="68.48" y2="506.80" stroke="#222" stroke-width="0.9" stroke-linecap="butt"/>
<line x1="86.17" y1="503.00" x2="86.17" y2="506.80" stroke="#222" stroke-width="0.9" stroke-linecap="butt"/>
<line x1="103.86" y1="503.00" x2="103.86" y2="506.80" stroke="#222" stroke-width="0.9" stroke-linecap="butt"/>
<line x1="121.55" y1="503.00" x2="121.55" y2="506.80" stroke="#222" stroke-width="0.9" stroke-linecap="butt"/>
<line x1="139.24" y1="503.00" x2="139.24" y2="506.80" stroke="#222" stroke-width="0.9" stroke-linecap="butt"/>
<line x1="156.93" y1="503.00" x2="156.93" y2="506.80" stroke="#222" stroke-width="0.9" stroke-linecap="butt"/>
<line x1="174.62" y1="503.00" x2="174.62" y2="506.80" stroke="#222" stroke-width="0.9" stroke-linecap="butt"/>
<line x1="33.10" y1="377.50" x2="33.10" y2="503.50" stroke="#000" stroke-width="1.15" stroke-linecap="butt"/>
<line x1="30.00" y1="378.00" x2="33.10" y2="378.00" stroke="#000" stroke-width="1.15" stroke-linecap="butt"/>
<text x="29.00" y="380.70" font-size="7.7" font-weight="normal" text-anchor="end" stroke="#000" stroke-width="0.1">1000</text>
<line x1="30.00" y1="440.40" x2="33.10" y2="440.40" stroke="#000" stroke-width="1.15" stroke-linecap="butt"/>
<text x="29.00" y="443.10" font-size="7.7" font-weight="normal" text-anchor="end" stroke="#000" stroke-width="0.1">500</text>
<line x1="30.00" y1="503.00" x2="33.10" y2="503.00" stroke="#000" stroke-width="1.15" stroke-linecap="butt"/>
<text x="29.00" y="505.70" font-size="7.7" font-weight="normal" text-anchor="end" stroke="#000" stroke-width="0.1">0</text>
<text x="49.34" y="512.90" font-size="8.8" font-weight="bold" text-anchor="end" transform="rotate(-32.5 49.34 512.90)" stroke="#000" stroke-width="0.45">M<tspan font-size="6.0" dx="0.7" dy="-0.2" font-weight="normal" stroke-width="0.2">Φ</tspan></text>
<text x="67.04" y="512.90" font-size="8.8" font-weight="bold" text-anchor="end" transform="rotate(-32.5 67.04 512.90)" stroke="#000" stroke-width="0.45">M2a</text>
<text x="84.73" y="512.90" font-size="8.8" font-weight="bold" text-anchor="end" transform="rotate(-32.5 84.73 512.90)" stroke="#000" stroke-width="0.45">M2b</text>
<text x="102.42" y="512.90" font-size="8.8" font-weight="bold" text-anchor="end" transform="rotate(-32.5 102.42 512.90)" stroke="#000" stroke-width="0.45">M2c</text>
<text x="120.31" y="514.70" font-size="8.8" font-weight="bold" text-anchor="end" transform="rotate(-34 120.31 514.70)" stroke="#000" stroke-width="0.45">TAM</text>
<text x="137.80" y="512.90" font-size="8.8" font-weight="bold" text-anchor="end" transform="rotate(-32.5 137.80 512.90)" stroke="#000" stroke-width="0.45">TA-M<tspan font-size="6.0" dx="0.7" dy="-0.2" font-weight="normal" stroke-width="0.2">Φ</tspan></text>
<text x="155.49" y="512.90" font-size="8.8" font-weight="bold" text-anchor="end" transform="rotate(-32.5 155.49 512.90)" stroke="#000" stroke-width="0.45">LIF-M<tspan font-size="6.0" dx="0.7" dy="-0.2" font-weight="normal" stroke-width="0.2">Φ</tspan></text>
<text x="173.18" y="512.90" font-size="8.8" font-weight="bold" text-anchor="end" transform="rotate(-32.5 173.18 512.90)" stroke="#000" stroke-width="0.45">IL-6-M<tspan font-size="6.0" dx="0.7" dy="-0.2" font-weight="normal" stroke-width="0.2">Φ</tspan></text>
<text x="176.90" y="367.40" font-size="11.9" font-weight="bold" text-anchor="start" stroke="#000" stroke-width="0.35">H</text>
<text x="192.30" y="433.00" font-size="10" font-weight="bold" text-anchor="middle" transform="rotate(-90 192.30 433.00)" stroke="#000" stroke-width="0.12">PTX3 (ng/mlL )</text>
<rect x="212.75" y="392.10" width="9.40" height="111.20" fill="#000"/>
<line x1="217.44" y1="378.00" x2="217.44" y2="392.60" stroke="#000" stroke-width="1.3" stroke-linecap="butt"/>
<line x1="215.29" y1="378.50" x2="219.59" y2="378.50" stroke="#000" stroke-width="1.1" stroke-linecap="butt"/>
<rect x="230.44" y="464.00" width="9.40" height="39.30" fill="#000"/>
<line x1="235.13" y1="457.70" x2="235.13" y2="464.50" stroke="#000" stroke-width="1.3" stroke-linecap="butt"/>
<line x1="232.98" y1="458.20" x2="237.28" y2="458.20" stroke="#000" stroke-width="1.1" stroke-linecap="butt"/>
<text x="235.13" y="455.70" font-size="6.6" font-weight="normal" text-anchor="middle" font-family="DejaVu Sans, sans-serif">★</text>
<rect x="248.12" y="440.20" width="9.40" height="63.10" fill="#000"/>
<line x1="252.82" y1="435.40" x2="252.82" y2="440.70" stroke="#000" stroke-width="1.3" stroke-linecap="butt"/>
<line x1="250.67" y1="435.90" x2="254.97" y2="435.90" stroke="#000" stroke-width="1.1" stroke-linecap="butt"/>
<text x="252.82" y="432.50" font-size="6.6" font-weight="normal" text-anchor="middle" font-family="DejaVu Sans, sans-serif">★</text>
<rect x="265.81" y="424.60" width="9.40" height="78.70" fill="#000"/>
<line x1="270.51" y1="416.50" x2="270.51" y2="425.10" stroke="#000" stroke-width="1.3" stroke-linecap="butt"/>
<line x1="268.37" y1="417.00" x2="272.66" y2="417.00" stroke="#000" stroke-width="1.1" stroke-linecap="butt"/>
<text x="270.51" y="414.60" font-size="6.6" font-weight="normal" text-anchor="middle" font-family="DejaVu Sans, sans-serif">★</text>
<rect x="283.50" y="501.20" width="9.40" height="2.10" fill="#000"/>
<line x1="288.20" y1="499.60" x2="288.20" y2="501.70" stroke="#000" stroke-width="1.3" stroke-linecap="butt"/>
<line x1="286.06" y1="500.10" x2="290.35" y2="500.10" stroke="#000" stroke-width="1.1" stroke-linecap="butt"/>
<text x="288.20" y="497.70" font-size="6.6" font-weight="normal" text-anchor="middle" font-family="DejaVu Sans, sans-serif">★</text>
<rect x="301.19" y="497.10" width="9.40" height="6.20" fill="#000"/>
<line x1="305.89" y1="495.20" x2="305.89" y2="497.60" stroke="#000" stroke-width="1.3" stroke-linecap="butt"/>
<line x1="303.75" y1="495.70" x2="308.04" y2="495.70" stroke="#000" stroke-width="1.1" stroke-linecap="butt"/>
<text x="305.89" y="493.80" font-size="6.6" font-weight="normal" text-anchor="middle" font-family="DejaVu Sans, sans-serif">★</text>
<rect x="318.88" y="491.00" width="9.40" height="12.30" fill="#000"/>
<line x1="323.58" y1="489.00" x2="323.58" y2="491.50" stroke="#000" stroke-width="1.3" stroke-linecap="butt"/>
<line x1="321.44" y1="489.50" x2="325.73" y2="489.50" stroke="#000" stroke-width="1.1" stroke-linecap="butt"/>
<text x="323.58" y="485.20" font-size="6.6" font-weight="normal" text-anchor="middle" font-family="DejaVu Sans, sans-serif">★</text>
<rect x="336.58" y="493.50" width="9.40" height="9.80" fill="#000"/>
<line x1="341.28" y1="490.40" x2="341.28" y2="494.00" stroke="#000" stroke-width="1.3" stroke-linecap="butt"/>
<line x1="339.13" y1="490.90" x2="343.43" y2="490.90" stroke="#000" stroke-width="1.1" stroke-linecap="butt"/>
<text x="341.28" y="487.70" font-size="6.6" font-weight="normal" text-anchor="middle" font-family="DejaVu Sans, sans-serif">★</text>
<line x1="208.40" y1="502.80" x2="350.92" y2="502.80" stroke="#000" stroke-width="1.15" stroke-linecap="butt"/>
<line x1="208.90" y1="502.80" x2="208.90" y2="506.60" stroke="#222" stroke-width="0.9" stroke-linecap="butt"/>
<line x1="226.59" y1="502.80" x2="226.59" y2="506.60" stroke="#222" stroke-width="0.9" stroke-linecap="butt"/>
<line x1="244.28" y1="502.80" x2="244.28" y2="506.60" stroke="#222" stroke-width="0.9" stroke-linecap="butt"/>
<line x1="261.97" y1="502.80" x2="261.97" y2="506.60" stroke="#222" stroke-width="0.9" stroke-linecap="butt"/>
<line x1="279.66" y1="502.80" x2="279.66" y2="506.60" stroke="#222" stroke-width="0.9" stroke-linecap="butt"/>
<line x1="297.35" y1="502.80" x2="297.35" y2="506.60" stroke="#222" stroke-width="0.9" stroke-linecap="butt"/>
<line x1="315.04" y1="502.80" x2="315.04" y2="506.60" stroke="#222" stroke-width="0.9" stroke-linecap="butt"/>
<line x1="332.73" y1="502.80" x2="332.73" y2="506.60" stroke="#222" stroke-width="0.9" stroke-linecap="butt"/>
<line x1="350.42" y1="502.80" x2="350.42" y2="506.60" stroke="#222" stroke-width="0.9" stroke-linecap="butt"/>
<line x1="208.90" y1="377.50" x2="208.90" y2="503.30" stroke="#000" stroke-width="1.15" stroke-linecap="butt"/>
<line x1="205.80" y1="378.00" x2="208.90" y2="378.00" stroke="#000" stroke-width="1.15" stroke-linecap="butt"/>
<text x="206.90" y="380.60" font-size="7.7" font-weight="normal" text-anchor="end" stroke="#000" stroke-width="0.1">80</text>
<line x1="205.80" y1="440.30" x2="208.90" y2="440.30" stroke="#000" stroke-width="1.15" stroke-linecap="butt"/>
<text x="206.90" y="442.90" font-size="7.7" font-weight="normal" text-anchor="end" stroke="#000" stroke-width="0.1">40</text>
<line x1="205.80" y1="502.80" x2="208.90" y2="502.80" stroke="#000" stroke-width="1.15" stroke-linecap="butt"/>
<text x="206.90" y="505.40" font-size="7.7" font-weight="normal" text-anchor="end" stroke="#000" stroke-width="0.1">0</text>
<text x="224.84" y="512.70" font-size="8.8" font-weight="bold" text-anchor="end" transform="rotate(-32.5 224.84 512.70)" stroke="#000" stroke-width="0.45">M<tspan font-size="6.0" dx="0.7" dy="-0.2" font-weight="normal" stroke-width="0.2">Φ</tspan></text>
<text x="242.53" y="512.70" font-size="8.8" font-weight="bold" text-anchor="end" transform="rotate(-32.5 242.53 512.70)" stroke="#000" stroke-width="0.45">M2a</text>
<text x="260.23" y="512.70" font-size="8.8" font-weight="bold" text-anchor="end" transform="rotate(-32.5 260.23 512.70)" stroke="#000" stroke-width="0.45">M2b</text>
<text x="277.92" y="512.70" font-size="8.8" font-weight="bold" text-anchor="end" transform="rotate(-32.5 277.92 512.70)" stroke="#000" stroke-width="0.45">M2c</text>
<text x="295.81" y="514.50" font-size="8.8" font-weight="bold" text-anchor="end" transform="rotate(-34 295.81 514.50)" stroke="#000" stroke-width="0.45">TAM</text>
<text x="313.30" y="512.70" font-size="8.8" font-weight="bold" text-anchor="end" transform="rotate(-32.5 313.30 512.70)" stroke="#000" stroke-width="0.45">TA-M<tspan font-size="6.0" dx="0.7" dy="-0.2" font-weight="normal" stroke-width="0.2">Φ</tspan></text>
<text x="330.99" y="512.70" font-size="8.8" font-weight="bold" text-anchor="end" transform="rotate(-32.5 330.99 512.70)" stroke="#000" stroke-width="0.45">LIF-M<tspan font-size="6.0" dx="0.7" dy="-0.2" font-weight="normal" stroke-width="0.2">Φ</tspan></text>
<text x="348.68" y="512.70" font-size="8.8" font-weight="bold" text-anchor="end" transform="rotate(-32.5 348.68 512.70)" stroke="#000" stroke-width="0.45">IL-6-M<tspan font-size="6.0" dx="0.7" dy="-0.2" font-weight="normal" stroke-width="0.2">Φ</tspan></text>
<text x="341.50" y="368.10" font-size="11.9" font-weight="bold" text-anchor="start" stroke="#000" stroke-width="0.35">I</text>
<text x="361.30" y="441.20" font-size="10" font-weight="bold" text-anchor="middle" transform="rotate(-90 361.30 441.20)" stroke="#000" stroke-width="0.12">CD14 (MFI)</text>
<rect x="380.08" y="457.90" width="9.40" height="45.60" fill="#000"/>
<line x1="384.78" y1="453.00" x2="384.78" y2="458.40" stroke="#000" stroke-width="1.3" stroke-linecap="butt"/>
<line x1="382.63" y1="453.50" x2="386.93" y2="453.50" stroke="#000" stroke-width="1.1" stroke-linecap="butt"/>
<rect x="398.03" y="473.30" width="9.40" height="30.20" fill="#000"/>
<line x1="402.73" y1="467.30" x2="402.73" y2="473.80" stroke="#000" stroke-width="1.3" stroke-linecap="butt"/>
<line x1="400.58" y1="467.80" x2="404.88" y2="467.80" stroke="#000" stroke-width="1.1" stroke-linecap="butt"/>
<rect x="415.98" y="457.90" width="9.40" height="45.60" fill="#000"/>
<line x1="420.68" y1="451.20" x2="420.68" y2="458.40" stroke="#000" stroke-width="1.3" stroke-linecap="butt"/>
<line x1="418.53" y1="451.70" x2="422.82" y2="451.70" stroke="#000" stroke-width="1.1" stroke-linecap="butt"/>
<rect x="433.93" y="448.00" width="9.40" height="55.50" fill="#000"/>
<line x1="438.62" y1="441.00" x2="438.62" y2="448.50" stroke="#000" stroke-width="1.3" stroke-linecap="butt"/>
<line x1="436.48" y1="441.50" x2="440.77" y2="441.50" stroke="#000" stroke-width="1.1" stroke-linecap="butt"/>
<rect x="451.88" y="384.60" width="9.40" height="8.40" fill="#000"/>
<rect x="451.88" y="403.00" width="9.40" height="100.50" fill="#000"/>
<line x1="456.57" y1="377.40" x2="456.57" y2="385.10" stroke="#000" stroke-width="1.3" stroke-linecap="butt"/>
<line x1="454.43" y1="377.90" x2="458.72" y2="377.90" stroke="#000" stroke-width="1.1" stroke-linecap="butt"/>
<line x1="448.57" y1="401.50" x2="464.77" y2="389.10" stroke="#000" stroke-width="1.4" stroke-linecap="butt"/>
<line x1="448.57" y1="409.40" x2="464.77" y2="397.00" stroke="#000" stroke-width="1.4" stroke-linecap="butt"/>
<text x="456.57" y="372.90" font-size="6.6" font-weight="normal" text-anchor="middle" font-family="DejaVu Sans, sans-serif">★</text>
<rect x="469.82" y="386.50" width="9.40" height="6.50" fill="#000"/>
<rect x="469.82" y="403.00" width="9.40" height="100.50" fill="#000"/>
<line x1="474.52" y1="381.50" x2="474.52" y2="387.00" stroke="#000" stroke-width="1.3" stroke-linecap="butt"/>
<line x1="472.38" y1="382.00" x2="476.67" y2="382.00" stroke="#000" stroke-width="1.1" stroke-linecap="butt"/>
<line x1="466.52" y1="401.50" x2="482.72" y2="389.10" stroke="#000" stroke-width="1.4" stroke-linecap="butt"/>
<line x1="466.52" y1="409.40" x2="482.72" y2="397.00" stroke="#000" stroke-width="1.4" stroke-linecap="butt"/>
<text x="474.52" y="378.10" font-size="6.6" font-weight="normal" text-anchor="middle" font-family="DejaVu Sans, sans-serif">★</text>
<rect x="487.78" y="390.00" width="9.40" height="3.00" fill="#000"/>
<rect x="487.78" y="403.00" width="9.40" height="100.50" fill="#000"/>
<line x1="492.48" y1="386.50" x2="492.48" y2="390.50" stroke="#000" stroke-width="1.3" stroke-linecap="butt"/>
<line x1="490.33" y1="387.00" x2="494.62" y2="387.00" stroke="#000" stroke-width="1.1" stroke-linecap="butt"/>
<line x1="484.48" y1="401.50" x2="500.68" y2="389.10" stroke="#000" stroke-width="1.4" stroke-linecap="butt"/>
<line x1="484.48" y1="409.40" x2="500.68" y2="397.00" stroke="#000" stroke-width="1.4" stroke-linecap="butt"/>
<text x="492.48" y="383.40" font-size="6.6" font-weight="normal" text-anchor="middle" font-family="DejaVu Sans, sans-serif">★</text>
<rect x="505.73" y="386.20" width="9.40" height="6.80" fill="#000"/>
<rect x="505.73" y="403.00" width="9.40" height="100.50" fill="#000"/>
<line x1="510.43" y1="379.20" x2="510.43" y2="386.70" stroke="#000" stroke-width="1.3" stroke-linecap="butt"/>
<line x1="508.28" y1="379.70" x2="512.58" y2="379.70" stroke="#000" stroke-width="1.1" stroke-linecap="butt"/>
<line x1="502.43" y1="401.50" x2="518.62" y2="389.10" stroke="#000" stroke-width="1.4" stroke-linecap="butt"/>
<line x1="502.43" y1="409.40" x2="518.62" y2="397.00" stroke="#000" stroke-width="1.4" stroke-linecap="butt"/>
<text x="510.43" y="375.30" font-size="6.6" font-weight="normal" text-anchor="middle" font-family="DejaVu Sans, sans-serif">★</text>
<line x1="375.30" y1="503.00" x2="519.90" y2="503.00" stroke="#000" stroke-width="1.15" stroke-linecap="butt"/>
<line x1="375.80" y1="503.00" x2="375.80" y2="506.80" stroke="#222" stroke-width="0.9" stroke-linecap="butt"/>
<line x1="393.75" y1="503.00" x2="393.75" y2="506.80" stroke="#222" stroke-width="0.9" stroke-linecap="butt"/>
<line x1="411.70" y1="503.00" x2="411.70" y2="506.80" stroke="#222" stroke-width="0.9" stroke-linecap="butt"/>
<line x1="429.65" y1="503.00" x2="429.65" y2="506.80" stroke="#222" stroke-width="0.9" stroke-linecap="butt"/>
<line x1="447.60" y1="503.00" x2="447.60" y2="506.80" stroke="#222" stroke-width="0.9" stroke-linecap="butt"/>
<line x1="465.55" y1="503.00" x2="465.55" y2="506.80" stroke="#222" stroke-width="0.9" stroke-linecap="butt"/>
<line x1="483.50" y1="503.00" x2="483.50" y2="506.80" stroke="#222" stroke-width="0.9" stroke-linecap="butt"/>
<line x1="501.45" y1="503.00" x2="501.45" y2="506.80" stroke="#222" stroke-width="0.9" stroke-linecap="butt"/>
<line x1="519.40" y1="503.00" x2="519.40" y2="506.80" stroke="#222" stroke-width="0.9" stroke-linecap="butt"/>
<line x1="375.80" y1="377.00" x2="375.80" y2="394.00" stroke="#000" stroke-width="1.15" stroke-linecap="butt"/>
<line x1="375.80" y1="403.00" x2="375.80" y2="503.50" stroke="#000" stroke-width="1.15" stroke-linecap="butt"/>
<line x1="373.00" y1="397.00" x2="378.60" y2="390.60" stroke="#000" stroke-width="1.0" stroke-linecap="butt"/>
<line x1="373.00" y1="405.70" x2="378.60" y2="399.30" stroke="#000" stroke-width="1.0" stroke-linecap="butt"/>
<line x1="372.70" y1="377.50" x2="375.80" y2="377.50" stroke="#000" stroke-width="1.15" stroke-linecap="butt"/>
<text x="371.10" y="380.10" font-size="7.7" font-weight="normal" text-anchor="end" stroke="#000" stroke-width="0.1">1400</text>
<text x="374.50" y="397.00" font-size="7.7" font-weight="normal" text-anchor="end" stroke="#000" stroke-width="0.1">700</text>
<text x="374.50" y="406.10" font-size="7.7" font-weight="normal" text-anchor="end" stroke="#000" stroke-width="0.1">200</text>
<line x1="372.70" y1="453.30" x2="375.80" y2="453.30" stroke="#000" stroke-width="1.15" stroke-linecap="butt"/>
<text x="374.50" y="455.90" font-size="7.7" font-weight="normal" text-anchor="end" stroke="#000" stroke-width="0.1">100</text>
<line x1="372.70" y1="503.00" x2="375.80" y2="503.00" stroke="#000" stroke-width="1.15" stroke-linecap="butt"/>
<text x="374.50" y="505.60" font-size="7.7" font-weight="normal" text-anchor="end" stroke="#000" stroke-width="0.1">0</text>
<text x="392.48" y="512.90" font-size="8.8" font-weight="bold" text-anchor="end" transform="rotate(-32.5 392.48 512.90)" stroke="#000" stroke-width="0.45">M<tspan font-size="6.0" dx="0.7" dy="-0.2" font-weight="normal" stroke-width="0.2">Φ</tspan></text>
<text x="410.43" y="512.90" font-size="8.8" font-weight="bold" text-anchor="end" transform="rotate(-32.5 410.43 512.90)" stroke="#000" stroke-width="0.45">M2a</text>
<text x="428.38" y="512.90" font-size="8.8" font-weight="bold" text-anchor="end" transform="rotate(-32.5 428.38 512.90)" stroke="#000" stroke-width="0.45">M2b</text>
<text x="446.32" y="512.90" font-size="8.8" font-weight="bold" text-anchor="end" transform="rotate(-32.5 446.32 512.90)" stroke="#000" stroke-width="0.45">M2c</text>
<text x="464.47" y="514.70" font-size="8.8" font-weight="bold" text-anchor="end" transform="rotate(-34 464.47 514.70)" stroke="#000" stroke-width="0.45">TAM</text>
<text x="482.22" y="512.90" font-size="8.8" font-weight="bold" text-anchor="end" transform="rotate(-32.5 482.22 512.90)" stroke="#000" stroke-width="0.45">TA-M<tspan font-size="6.0" dx="0.7" dy="-0.2" font-weight="normal" stroke-width="0.2">Φ</tspan></text>
<text x="500.18" y="512.90" font-size="8.8" font-weight="bold" text-anchor="end" transform="rotate(-32.5 500.18 512.90)" stroke="#000" stroke-width="0.45">LIF-M<tspan font-size="6.0" dx="0.7" dy="-0.2" font-weight="normal" stroke-width="0.2">Φ</tspan></text>
<text x="518.12" y="512.90" font-size="8.8" font-weight="bold" text-anchor="end" transform="rotate(-32.5 518.12 512.90)" stroke="#000" stroke-width="0.45">IL-6-M<tspan font-size="6.0" dx="0.7" dy="-0.2" font-weight="normal" stroke-width="0.2">Φ</tspan></text>
<text x="2.30" y="550.80" font-size="11.9" font-weight="bold" text-anchor="start" stroke="#000" stroke-width="0.35">J</text>
<text x="14.50" y="622.10" font-size="10" font-weight="bold" text-anchor="middle" transform="rotate(-90 14.50 622.10)" stroke="#000" stroke-width="0.12">ILT2 (MFI)</text>
<rect x="36.96" y="617.70" width="9.40" height="68.50" fill="#000"/>
<line x1="41.66" y1="605.80" x2="41.66" y2="618.20" stroke="#000" stroke-width="1.3" stroke-linecap="butt"/>
<line x1="39.52" y1="606.30" x2="43.81" y2="606.30" stroke="#000" stroke-width="1.1" stroke-linecap="butt"/>
<rect x="54.69" y="632.10" width="9.40" height="54.10" fill="#000"/>
<line x1="59.39" y1="617.70" x2="59.39" y2="632.60" stroke="#000" stroke-width="1.3" stroke-linecap="butt"/>
<line x1="57.24" y1="618.20" x2="61.54" y2="618.20" stroke="#000" stroke-width="1.1" stroke-linecap="butt"/>
<rect x="72.42" y="617.70" width="9.40" height="68.50" fill="#000"/>
<line x1="77.12" y1="605.80" x2="77.12" y2="618.20" stroke="#000" stroke-width="1.3" stroke-linecap="butt"/>
<line x1="74.97" y1="606.30" x2="79.28" y2="606.30" stroke="#000" stroke-width="1.1" stroke-linecap="butt"/>
<rect x="90.15" y="617.70" width="9.40" height="68.50" fill="#000"/>
<line x1="94.85" y1="608.00" x2="94.85" y2="618.20" stroke="#000" stroke-width="1.3" stroke-linecap="butt"/>
<line x1="92.70" y1="608.50" x2="97.00" y2="608.50" stroke="#000" stroke-width="1.1" stroke-linecap="butt"/>
<rect x="107.88" y="576.30" width="9.40" height="109.90" fill="#000"/>
<line x1="112.58" y1="560.00" x2="112.58" y2="576.80" stroke="#000" stroke-width="1.3" stroke-linecap="butt"/>
<line x1="110.43" y1="560.50" x2="114.73" y2="560.50" stroke="#000" stroke-width="1.1" stroke-linecap="butt"/>
<text x="112.58" y="557.10" font-size="6.6" font-weight="normal" text-anchor="middle" font-family="DejaVu Sans, sans-serif">★</text>
<rect x="125.61" y="569.20" width="9.40" height="117.00" fill="#000"/>
<line x1="130.31" y1="559.40" x2="130.31" y2="569.70" stroke="#000" stroke-width="1.3" stroke-linecap="butt"/>
<line x1="128.16" y1="559.90" x2="132.47" y2="559.90" stroke="#000" stroke-width="1.1" stroke-linecap="butt"/>
<text x="130.31" y="554.60" font-size="6.6" font-weight="normal" text-anchor="middle" font-family="DejaVu Sans, sans-serif">★</text>
<rect x="143.35" y="566.70" width="9.40" height="119.50" fill="#000"/>
<line x1="148.05" y1="559.40" x2="148.05" y2="567.20" stroke="#000" stroke-width="1.3" stroke-linecap="butt"/>
<line x1="145.90" y1="559.90" x2="150.20" y2="559.90" stroke="#000" stroke-width="1.1" stroke-linecap="butt"/>
<text x="148.05" y="556.10" font-size="6.6" font-weight="normal" text-anchor="middle" font-family="DejaVu Sans, sans-serif">★</text>
<rect x="161.07" y="578.80" width="9.40" height="107.40" fill="#000"/>
<line x1="165.77" y1="566.70" x2="165.77" y2="579.30" stroke="#000" stroke-width="1.3" stroke-linecap="butt"/>
<line x1="163.62" y1="567.20" x2="167.92" y2="567.20" stroke="#000" stroke-width="1.1" stroke-linecap="butt"/>
<text x="165.77" y="563.80" font-size="6.6" font-weight="normal" text-anchor="middle" font-family="DejaVu Sans, sans-serif">★</text>
<line x1="32.30" y1="685.70" x2="175.14" y2="685.70" stroke="#000" stroke-width="1.15" stroke-linecap="butt"/>
<line x1="32.80" y1="685.70" x2="32.80" y2="689.50" stroke="#222" stroke-width="0.9" stroke-linecap="butt"/>
<line x1="50.53" y1="685.70" x2="50.53" y2="689.50" stroke="#222" stroke-width="0.9" stroke-linecap="butt"/>
<line x1="68.26" y1="685.70" x2="68.26" y2="689.50" stroke="#222" stroke-width="0.9" stroke-linecap="butt"/>
<line x1="85.99" y1="685.70" x2="85.99" y2="689.50" stroke="#222" stroke-width="0.9" stroke-linecap="butt"/>
<line x1="103.72" y1="685.70" x2="103.72" y2="689.50" stroke="#222" stroke-width="0.9" stroke-linecap="butt"/>
<line x1="121.45" y1="685.70" x2="121.45" y2="689.50" stroke="#222" stroke-width="0.9" stroke-linecap="butt"/>
<line x1="139.18" y1="685.70" x2="139.18" y2="689.50" stroke="#222" stroke-width="0.9" stroke-linecap="butt"/>
<line x1="156.91" y1="685.70" x2="156.91" y2="689.50" stroke="#222" stroke-width="0.9" stroke-linecap="butt"/>
<line x1="174.64" y1="685.70" x2="174.64" y2="689.50" stroke="#222" stroke-width="0.9" stroke-linecap="butt"/>
<line x1="32.80" y1="559.30" x2="32.80" y2="686.20" stroke="#000" stroke-width="1.15" stroke-linecap="butt"/>
<line x1="29.70" y1="559.80" x2="32.80" y2="559.80" stroke="#000" stroke-width="1.15" stroke-linecap="butt"/>
<text x="29.60" y="562.70" font-size="7.7" font-weight="normal" text-anchor="end" stroke="#000" stroke-width="0.1">50</text>
<line x1="29.70" y1="623.30" x2="32.80" y2="623.30" stroke="#000" stroke-width="1.15" stroke-linecap="butt"/>
<text x="29.60" y="626.20" font-size="7.7" font-weight="normal" text-anchor="end" stroke="#000" stroke-width="0.1">25</text>
<line x1="29.70" y1="685.70" x2="32.80" y2="685.70" stroke="#000" stroke-width="1.15" stroke-linecap="butt"/>
<text x="29.60" y="688.60" font-size="7.7" font-weight="normal" text-anchor="end" stroke="#000" stroke-width="0.1">0</text>
<text x="49.27" y="695.00" font-size="8.8" font-weight="bold" text-anchor="end" transform="rotate(-32.5 49.27 695.00)" stroke="#000" stroke-width="0.45">M<tspan font-size="6.0" dx="0.7" dy="-0.2" font-weight="normal" stroke-width="0.2">Φ</tspan></text>
<text x="66.99" y="695.00" font-size="8.8" font-weight="bold" text-anchor="end" transform="rotate(-32.5 66.99 695.00)" stroke="#000" stroke-width="0.45">M2a</text>
<text x="84.72" y="695.00" font-size="8.8" font-weight="bold" text-anchor="end" transform="rotate(-32.5 84.72 695.00)" stroke="#000" stroke-width="0.45">M2b</text>
<text x="102.45" y="695.00" font-size="8.8" font-weight="bold" text-anchor="end" transform="rotate(-32.5 102.45 695.00)" stroke="#000" stroke-width="0.45">M2c</text>
<text x="120.38" y="696.80" font-size="8.8" font-weight="bold" text-anchor="end" transform="rotate(-34 120.38 696.80)" stroke="#000" stroke-width="0.45">TAM</text>
<text x="137.91" y="695.00" font-size="8.8" font-weight="bold" text-anchor="end" transform="rotate(-32.5 137.91 695.00)" stroke="#000" stroke-width="0.45">TA-M<tspan font-size="6.0" dx="0.7" dy="-0.2" font-weight="normal" stroke-width="0.2">Φ</tspan></text>
<text x="155.65" y="695.00" font-size="8.8" font-weight="bold" text-anchor="end" transform="rotate(-32.5 155.65 695.00)" stroke="#000" stroke-width="0.45">LIF-M<tspan font-size="6.0" dx="0.7" dy="-0.2" font-weight="normal" stroke-width="0.2">Φ</tspan></text>
<text x="173.37" y="695.00" font-size="8.8" font-weight="bold" text-anchor="end" transform="rotate(-32.5 173.37 695.00)" stroke="#000" stroke-width="0.45">IL-6-M<tspan font-size="6.0" dx="0.7" dy="-0.2" font-weight="normal" stroke-width="0.2">Φ</tspan></text>
<text x="176.50" y="551.10" font-size="11.9" font-weight="bold" text-anchor="start" stroke="#000" stroke-width="0.35">K</text>
<text x="192.30" y="622.10" font-size="10" font-weight="bold" text-anchor="middle" transform="rotate(-90 192.30 622.10)" stroke="#000" stroke-width="0.12">ILT3 (MFI)</text>
<rect x="213.69" y="663.00" width="9.40" height="23.20" fill="#000"/>
<line x1="218.39" y1="660.50" x2="218.39" y2="663.50" stroke="#000" stroke-width="1.3" stroke-linecap="butt"/>
<line x1="216.24" y1="661.00" x2="220.54" y2="661.00" stroke="#000" stroke-width="1.1" stroke-linecap="butt"/>
<rect x="231.37" y="666.30" width="9.40" height="19.90" fill="#000"/>
<line x1="236.07" y1="664.00" x2="236.07" y2="666.80" stroke="#000" stroke-width="1.3" stroke-linecap="butt"/>
<line x1="233.92" y1="664.50" x2="238.22" y2="664.50" stroke="#000" stroke-width="1.1" stroke-linecap="butt"/>
<rect x="249.05" y="663.40" width="9.40" height="22.80" fill="#000"/>
<line x1="253.75" y1="658.60" x2="253.75" y2="663.90" stroke="#000" stroke-width="1.3" stroke-linecap="butt"/>
<line x1="251.60" y1="659.10" x2="255.90" y2="659.10" stroke="#000" stroke-width="1.1" stroke-linecap="butt"/>
<rect x="266.73" y="661.10" width="9.40" height="25.10" fill="#000"/>
<line x1="271.43" y1="656.80" x2="271.43" y2="661.60" stroke="#000" stroke-width="1.3" stroke-linecap="butt"/>
<line x1="269.28" y1="657.30" x2="273.58" y2="657.30" stroke="#000" stroke-width="1.1" stroke-linecap="butt"/>
<rect x="284.41" y="616.20" width="9.40" height="70.00" fill="#000"/>
<line x1="289.11" y1="608.00" x2="289.11" y2="616.70" stroke="#000" stroke-width="1.3" stroke-linecap="butt"/>
<line x1="286.96" y1="608.50" x2="291.26" y2="608.50" stroke="#000" stroke-width="1.1" stroke-linecap="butt"/>
<text x="289.11" y="605.20" font-size="6.6" font-weight="normal" text-anchor="middle" font-family="DejaVu Sans, sans-serif">★</text>
<rect x="302.09" y="565.20" width="9.40" height="121.00" fill="#000"/>
<line x1="306.79" y1="559.40" x2="306.79" y2="565.70" stroke="#000" stroke-width="1.3" stroke-linecap="butt"/>
<line x1="304.64" y1="559.90" x2="308.94" y2="559.90" stroke="#000" stroke-width="1.1" stroke-linecap="butt"/>
<text x="306.79" y="556.70" font-size="6.6" font-weight="normal" text-anchor="middle" font-family="DejaVu Sans, sans-serif">★</text>
<rect x="319.77" y="606.70" width="9.40" height="79.50" fill="#000"/>
<line x1="324.47" y1="600.40" x2="324.47" y2="607.20" stroke="#000" stroke-width="1.3" stroke-linecap="butt"/>
<line x1="322.32" y1="600.90" x2="326.62" y2="600.90" stroke="#000" stroke-width="1.1" stroke-linecap="butt"/>
<text x="324.47" y="597.50" font-size="6.6" font-weight="normal" text-anchor="middle" font-family="DejaVu Sans, sans-serif">★</text>
<rect x="337.45" y="590.80" width="9.40" height="95.40" fill="#000"/>
<line x1="342.15" y1="583.00" x2="342.15" y2="591.30" stroke="#000" stroke-width="1.3" stroke-linecap="butt"/>
<line x1="340.00" y1="583.50" x2="344.30" y2="583.50" stroke="#000" stroke-width="1.1" stroke-linecap="butt"/>
<text x="342.15" y="580.70" font-size="6.6" font-weight="normal" text-anchor="middle" font-family="DejaVu Sans, sans-serif">★</text>
<line x1="208.90" y1="685.70" x2="351.34" y2="685.70" stroke="#000" stroke-width="1.15" stroke-linecap="butt"/>
<line x1="209.40" y1="685.70" x2="209.40" y2="689.50" stroke="#222" stroke-width="0.9" stroke-linecap="butt"/>
<line x1="227.08" y1="685.70" x2="227.08" y2="689.50" stroke="#222" stroke-width="0.9" stroke-linecap="butt"/>
<line x1="244.76" y1="685.70" x2="244.76" y2="689.50" stroke="#222" stroke-width="0.9" stroke-linecap="butt"/>
<line x1="262.44" y1="685.70" x2="262.44" y2="689.50" stroke="#222" stroke-width="0.9" stroke-linecap="butt"/>
<line x1="280.12" y1="685.70" x2="280.12" y2="689.50" stroke="#222" stroke-width="0.9" stroke-linecap="butt"/>
<line x1="297.80" y1="685.70" x2="297.80" y2="689.50" stroke="#222" stroke-width="0.9" stroke-linecap="butt"/>
<line x1="315.48" y1="685.70" x2="315.48" y2="689.50" stroke="#222" stroke-width="0.9" stroke-linecap="butt"/>
<line x1="333.16" y1="685.70" x2="333.16" y2="689.50" stroke="#222" stroke-width="0.9" stroke-linecap="butt"/>
<line x1="350.84" y1="685.70" x2="350.84" y2="689.50" stroke="#222" stroke-width="0.9" stroke-linecap="butt"/>
<line x1="209.40" y1="559.10" x2="209.40" y2="686.20" stroke="#000" stroke-width="1.15" stroke-linecap="butt"/>
<line x1="206.30" y1="559.60" x2="209.40" y2="559.60" stroke="#000" stroke-width="1.15" stroke-linecap="butt"/>
<text x="207.00" y="562.40" font-size="7.7" font-weight="normal" text-anchor="end" stroke="#000" stroke-width="0.1">400</text>
<line x1="206.30" y1="622.60" x2="209.40" y2="622.60" stroke="#000" stroke-width="1.15" stroke-linecap="butt"/>
<text x="207.00" y="625.40" font-size="7.7" font-weight="normal" text-anchor="end" stroke="#000" stroke-width="0.1">200</text>
<line x1="206.30" y1="685.70" x2="209.40" y2="685.70" stroke="#000" stroke-width="1.15" stroke-linecap="butt"/>
<text x="207.00" y="688.50" font-size="7.7" font-weight="normal" text-anchor="end" stroke="#000" stroke-width="0.1">0</text>
<text x="225.19" y="695.00" font-size="8.8" font-weight="bold" text-anchor="end" transform="rotate(-32.5 225.19 695.00)" stroke="#000" stroke-width="0.45">M<tspan font-size="6.0" dx="0.7" dy="-0.2" font-weight="normal" stroke-width="0.2">Φ</tspan></text>
<text x="242.87" y="695.00" font-size="8.8" font-weight="bold" text-anchor="end" transform="rotate(-32.5 242.87 695.00)" stroke="#000" stroke-width="0.45">M2a</text>
<text x="260.55" y="695.00" font-size="8.8" font-weight="bold" text-anchor="end" transform="rotate(-32.5 260.55 695.00)" stroke="#000" stroke-width="0.45">M2b</text>
<text x="278.23" y="695.00" font-size="8.8" font-weight="bold" text-anchor="end" transform="rotate(-32.5 278.23 695.00)" stroke="#000" stroke-width="0.45">M2c</text>
<text x="296.11" y="696.80" font-size="8.8" font-weight="bold" text-anchor="end" transform="rotate(-34 296.11 696.80)" stroke="#000" stroke-width="0.45">TAM</text>
<text x="313.59" y="695.00" font-size="8.8" font-weight="bold" text-anchor="end" transform="rotate(-32.5 313.59 695.00)" stroke="#000" stroke-width="0.45">TA-M<tspan font-size="6.0" dx="0.7" dy="-0.2" font-weight="normal" stroke-width="0.2">Φ</tspan></text>
<text x="331.27" y="695.00" font-size="8.8" font-weight="bold" text-anchor="end" transform="rotate(-32.5 331.27 695.00)" stroke="#000" stroke-width="0.45">LIF-M<tspan font-size="6.0" dx="0.7" dy="-0.2" font-weight="normal" stroke-width="0.2">Φ</tspan></text>
<text x="348.95" y="695.00" font-size="8.8" font-weight="bold" text-anchor="end" transform="rotate(-32.5 348.95 695.00)" stroke="#000" stroke-width="0.45">IL-6-M<tspan font-size="6.0" dx="0.7" dy="-0.2" font-weight="normal" stroke-width="0.2">Φ</tspan></text>
</svg>
</body></html>
